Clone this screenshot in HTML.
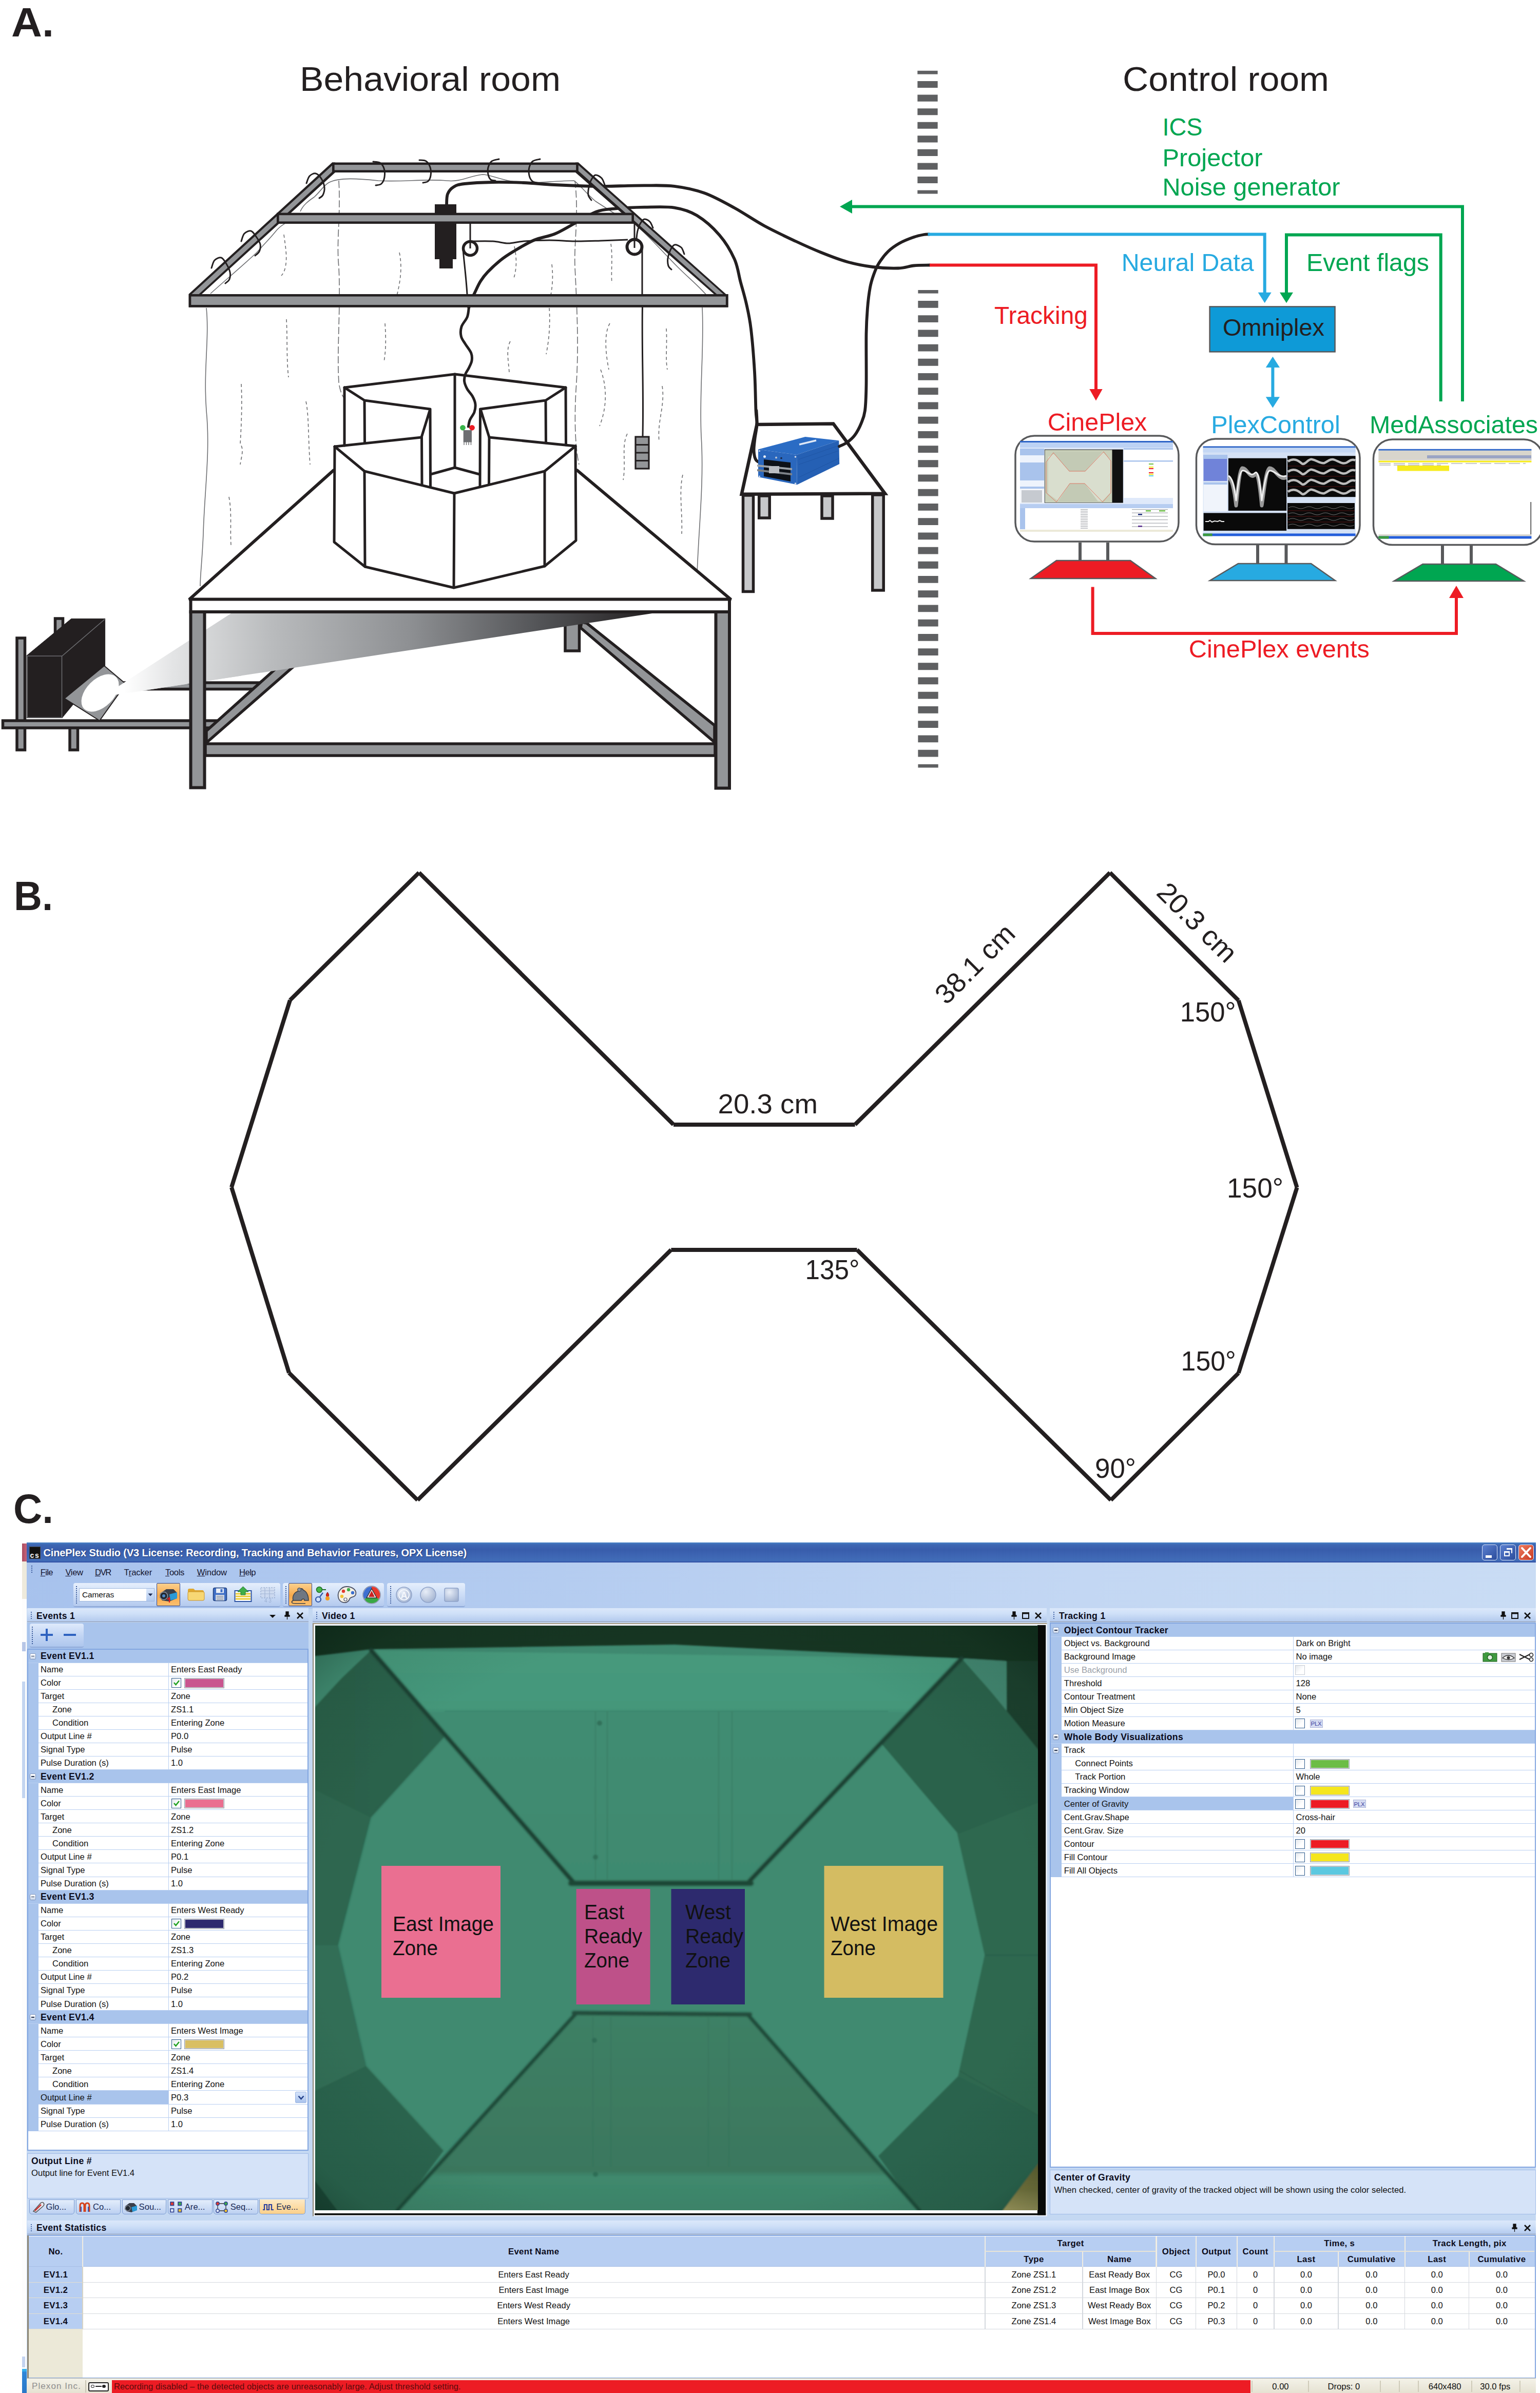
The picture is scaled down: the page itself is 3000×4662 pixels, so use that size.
<!DOCTYPE html><html><head><meta charset="utf-8"><title>Figure</title><style>
html,body{margin:0;padding:0;background:#fff}body{width:3000px;height:4662px;position:relative;overflow:hidden;font-family:"Liberation Sans",sans-serif}
#win{position:absolute;left:0;top:0;width:3000px;height:4662px;font-family:"Liberation Sans",sans-serif;color:#000}
#win div,#win span,#win svg{position:absolute;box-sizing:border-box}
.t{white-space:nowrap;font-size:16.6px;line-height:20px;color:#111;letter-spacing:0px}
.b{font-weight:bold;font-size:17.6px;color:#0b0b1a;letter-spacing:0.35px}
.hdr{background:linear-gradient(#d3e2f9,#b3ccf0);}
.gr{background:#fff}
.row{left:0;height:26.05px;border-bottom:1.5px solid #b6cdf0}
.sec{background:#a9c5ee}
.cb{width:19px;height:19px;border:1.5px solid #2b4f86;background:linear-gradient(135deg,#dfe6ee,#fff);border-radius:1px}
.sw{height:19px;width:77px;border:2px solid #c3c7cc;box-shadow:0 0 0 1px #8e9299 inset}

</style></head><body>
<svg width="3000" height="2990" viewBox="0 0 3000 2990" style="position:absolute;left:0;top:0" font-family="Liberation Sans, sans-serif">
<defs>
<linearGradient id="beam" gradientUnits="userSpaceOnUse" x1="210" y1="0" x2="1275" y2="0">
<stop offset="0" stop-color="#ffffff"/><stop offset="0.03" stop-color="#ffffff"/><stop offset="0.12" stop-color="#e3e4e5"/><stop offset="0.3" stop-color="#b9bbbd"/><stop offset="0.55" stop-color="#8e9093"/><stop offset="0.8" stop-color="#505154"/><stop offset="1" stop-color="#231f20"/>
</linearGradient>
</defs>
<!-- labels -->
<text x="22" y="71" font-size="80" font-weight="bold" fill="#231f20" textLength="83" lengthAdjust="spacingAndGlyphs">A.</text>
<text x="584" y="177" font-size="66" fill="#231f20" textLength="508" lengthAdjust="spacingAndGlyphs">Behavioral room</text>
<text x="2187" y="177" font-size="66" fill="#231f20" textLength="402" lengthAdjust="spacingAndGlyphs">Control room</text>

<!-- curtain thin lines -->
<g fill="none" stroke="#6d6e71" stroke-width="1.6">
<path d="M410 572 C440 545 470 520 500 492 C520 470 528 462 536 452 C545 440 552 438 560 432"/>
<path d="M585 412 C590 400 600 392 612 384 C625 372 630 362 640 356 C660 345 700 348 737 352 C780 355 830 348 870 352 C900 355 915 342 940 340 C960 340 985 358 1040 356 C1075 354 1100 352 1118 352 C1130 360 1140 375 1160 392 C1180 405 1200 418 1222 432"/>
<path d="M1240 440 C1260 455 1290 490 1320 520 C1345 545 1365 560 1385 585"/>
<path d="M402 600 C408 660 396 720 402 800 C410 880 398 960 396 1040 C394 1090 390 1120 390 1142"/>
<path d="M1368 599 C1372 680 1362 760 1366 850 C1372 940 1360 1040 1358 1120"/>
<path d="M1120 352 C1128 420 1118 470 1120 520 C1124 600 1128 680 1122 760 C1118 830 1122 880 1128 905" stroke-dasharray="14 5"/>
<path d="M660 352 C664 420 655 470 660 520 C664 600 656 680 660 745 C662 760 666 770 670 775" stroke-dasharray="14 5"/>
</g>
<g fill="none" stroke="#6d6e71" stroke-width="1.6" stroke-dasharray="6 5">
<path d="M553 457 C556 480 560 500 556 520 C554 530 550 535 548 537"/>
<path d="M778 492 C784 520 780 550 772 580"/>
<path d="M1002 480 C1006 500 1008 520 1000 545"/>
<path d="M1075 515 C1078 540 1076 560 1072 580"/>
<path d="M1190 475 C1194 500 1190 530 1192 552"/>
<path d="M558 622 C560 660 558 700 562 735"/>
<path d="M750 630 C752 660 752 680 748 705"/>
<path d="M1070 600 C1072 630 1070 660 1064 690"/>
<path d="M994 665 C986 680 990 700 992 725"/>
<path d="M1188 630 C1176 650 1180 690 1186 720"/>
<path d="M1298 640 C1300 670 1296 700 1300 720"/>
<path d="M1290 752 C1296 790 1280 820 1284 860"/>
<path d="M1222 845 C1210 870 1220 900 1214 935"/>
<path d="M1170 720 C1185 760 1180 800 1168 830"/>
<path d="M1330 925 C1322 960 1330 1000 1328 1040"/>
<path d="M470 748 C472 790 470 830 468 865 C476 875 470 890 468 905"/>
<path d="M596 782 C602 810 600 850 604 905"/>
<path d="M446 968 C452 1000 448 1030 450 1062"/>
</g>

<polygon points="368.5,1168 650,916 1124,916 1424,1168" fill="#fff" stroke="#231f20" stroke-width="6" stroke-linejoin="bevel"/>
<g fill="none" stroke="#231f20" stroke-width="5.8" stroke-linecap="round"><path d="M870.0 399.0 C870.3 395.5 869.7 383.8 872.0 378.0 C874.3 372.2 878.5 367.3 884.0 364.0 C889.5 360.7 892.3 359.5 905.0 358.0 C917.7 356.5 940.8 355.3 960.0 355.0 C979.2 354.7 1000.0 355.2 1020.0 356.0 C1040.0 356.8 1057.8 358.9 1080.0 360.0 C1102.2 361.1 1136.0 362.3 1153.0 362.8 C1170.0 363.3 1165.0 363.0 1182.0 362.8 C1199.0 362.6 1233.0 361.4 1255.0 361.4 C1277.0 361.4 1294.3 360.4 1313.8 362.8 C1333.3 365.2 1352.5 369.0 1372.0 376.0 C1391.5 383.0 1411.2 394.3 1430.7 405.0 C1450.2 415.7 1469.1 429.2 1489.0 440.0 C1508.9 450.8 1531.5 461.3 1550.0 470.0 C1568.5 478.7 1583.3 485.3 1600.0 492.0 C1616.7 498.7 1633.3 505.3 1650.0 510.0 C1666.7 514.7 1683.3 517.9 1700.0 520.0 C1716.7 522.1 1736.7 522.9 1750.0 522.5 C1763.3 522.1 1769.8 518.5 1780.0 517.5 C1790.2 516.5 1805.8 516.7 1811.0 516.5"/><path d="M913.4 598.8 C914.2 596.5 916.1 589.8 918.0 585.0 C919.9 580.2 922.0 576.2 925.0 570.0 C928.0 563.8 931.8 554.7 936.0 548.0 C940.2 541.3 943.5 536.8 950.0 530.0 C956.5 523.2 966.7 513.7 975.0 507.0 C983.3 500.3 989.2 496.5 1000.0 490.0 C1010.8 483.5 1026.7 473.7 1040.0 468.0 C1053.3 462.3 1067.0 461.3 1080.0 456.0 C1093.0 450.7 1104.4 443.2 1118.0 436.0 C1131.6 428.8 1148.6 417.4 1161.8 412.5 C1175.0 407.6 1181.4 408.2 1197.0 406.7 C1212.6 405.2 1235.8 404.0 1255.3 403.7 C1274.8 403.4 1296.8 401.9 1313.8 404.6 C1330.8 407.3 1343.0 410.9 1357.6 419.8 C1372.2 428.7 1389.2 443.7 1401.4 457.8 C1413.6 471.9 1423.9 489.5 1430.7 504.6 C1437.5 519.7 1438.5 533.8 1442.4 548.4 C1446.3 563.0 1450.6 576.7 1454.0 592.0 C1457.4 607.3 1460.1 617.8 1462.8 640.0 C1465.5 662.2 1468.4 698.3 1470.0 725.0 C1471.6 751.7 1471.8 783.0 1472.5 800.0 C1473.2 817.0 1474.9 817.9 1474.5 827.0 C1474.1 836.1 1471.0 846.1 1470.0 854.7 C1469.0 863.3 1468.1 871.6 1468.6 878.6 C1469.1 885.6 1469.5 892.0 1473.0 896.5 C1476.5 901.0 1486.8 903.9 1489.5 905.4"/></g>
<polygon points="647,316.5 653,316.5 653,336 393,573 367.5,573" fill="#231f20"/>
<polygon points="647.5,322 661,322 387.5,573 373.5,573" fill="#939598"/>
<polygon points="1126.8,316.5 1414.3,573 1390.9,573 1121,336 1121,316.5" fill="#231f20"/>
<polygon points="1127.1,322 1409.1,573 1396.3,573 1114.3,322" fill="#939598"/>
<g fill="#939598" stroke="#231f20" stroke-width="4.6" stroke-linejoin="miter">
<rect x="649.3" y="318.8" width="475.2" height="14.9"/>
<rect x="370" y="575.3" width="1046.2" height="21"/>
</g>
<rect x="847" y="398" width="42" height="107" fill="#231f20"/><rect x="856" y="504" width="26" height="19" fill="#231f20"/>
<rect x="541.3" y="416.9" width="691.4" height="16.8" fill="#939598" stroke="#231f20" stroke-width="4.6"/>
<g fill="none" stroke="#231f20">
<path d="M916.0 470.0 C923.3 470.0 947.7 469.3 960.0 470.0 C972.3 470.7 980.0 474.0 990.0 474.0 C1000.0 474.0 1006.7 471.0 1020.0 470.0 C1033.3 469.0 1053.3 468.0 1070.0 468.0 C1086.7 468.0 1103.3 469.8 1120.0 470.0 C1136.7 470.2 1152.8 469.5 1170.0 469.0 C1187.2 468.5 1214.2 467.3 1223.0 467.0" stroke-width="3"/>
<circle cx="916" cy="484" r="13.5" stroke-width="5.5" fill="#fff"/>
<circle cx="1236" cy="481" r="14.5" stroke-width="6" fill="#fff"/>
<path d="M916 436 V484 M1236 436 V483" stroke-width="3"/>
<path d="M902 486 C904 510 908 540 910 573" stroke-width="3"/>
<path d="M1251 481 V573 M1251.5 597 C1250 680 1254 760 1252 850" stroke-width="3"/>
</g>
<g fill="none" stroke="#231f20" stroke-width="3" stroke-linecap="round"><path d="M597.0 357.0 C598.0 354.7 600.0 346.2 603.0 343.0 C606.0 339.8 611.2 337.2 615.0 338.0 C618.8 338.8 623.2 343.5 626.0 348.0 C628.8 352.5 631.5 359.7 632.0 365.0 C632.5 370.3 630.7 376.5 629.0 380.0 C627.3 383.5 623.2 385.0 622.0 386.0"/><path d="M470.0 470.0 C471.0 467.5 472.8 458.3 476.0 455.0 C479.2 451.7 485.2 449.0 489.0 450.0 C492.8 451.0 496.0 456.7 499.0 461.0 C502.0 465.3 506.0 471.2 507.0 476.0 C508.0 480.8 506.7 486.3 505.0 490.0 C503.3 493.7 498.3 496.7 497.0 498.0"/><path d="M412.0 522.0 C413.0 519.5 414.8 510.3 418.0 507.0 C421.2 503.7 427.2 500.8 431.0 502.0 C434.8 503.2 438.2 509.3 441.0 514.0 C443.8 518.7 447.0 525.0 448.0 530.0 C449.0 535.0 448.5 540.3 447.0 544.0 C445.5 547.7 440.3 550.7 439.0 552.0"/><path d="M727.0 315.0 C729.2 315.3 736.5 314.8 740.0 317.0 C743.5 319.2 746.5 323.3 748.0 328.0 C749.5 332.7 749.8 340.0 749.0 345.0 C748.2 350.0 745.8 355.3 743.0 358.0 C740.2 360.7 733.8 360.5 732.0 361.0"/><path d="M817.0 312.0 C819.2 312.3 826.5 311.7 830.0 314.0 C833.5 316.3 836.5 321.3 838.0 326.0 C839.5 330.7 839.7 337.5 839.0 342.0 C838.3 346.5 836.5 350.7 834.0 353.0 C831.5 355.3 825.7 355.5 824.0 356.0"/><path d="M972.0 310.0 C969.7 310.7 961.5 311.3 958.0 314.0 C954.5 316.7 952.2 321.7 951.0 326.0 C949.8 330.3 950.2 336.0 951.0 340.0 C951.8 344.0 953.7 348.0 956.0 350.0 C958.3 352.0 963.5 351.7 965.0 352.0"/><path d="M1052.0 310.0 C1049.7 310.7 1041.5 311.3 1038.0 314.0 C1034.5 316.7 1032.2 321.3 1031.0 326.0 C1029.8 330.7 1030.0 337.5 1031.0 342.0 C1032.0 346.5 1034.5 350.7 1037.0 353.0 C1039.5 355.3 1044.5 355.5 1046.0 356.0"/><path d="M1178.0 360.0 C1177.0 357.8 1175.0 350.2 1172.0 347.0 C1169.0 343.8 1163.3 340.5 1160.0 341.0 C1156.7 341.5 1154.2 346.0 1152.0 350.0 C1149.8 354.0 1148.0 360.0 1147.0 365.0 C1146.0 370.0 1145.2 375.8 1146.0 380.0 C1146.8 384.2 1151.0 388.3 1152.0 390.0"/><path d="M1272.0 444.0 C1271.0 442.0 1268.8 434.8 1266.0 432.0 C1263.2 429.2 1258.2 426.3 1255.0 427.0 C1251.8 427.7 1249.2 432.2 1247.0 436.0 C1244.8 439.8 1243.2 445.3 1242.0 450.0 C1240.8 454.7 1240.3 461.7 1240.0 464.0"/><path d="M1333.0 495.0 C1332.0 492.8 1330.2 485.0 1327.0 482.0 C1323.8 479.0 1317.5 476.2 1314.0 477.0 C1310.5 477.8 1308.2 482.7 1306.0 487.0 C1303.8 491.3 1301.7 497.8 1301.0 503.0 C1300.3 508.2 1300.8 514.3 1302.0 518.0 C1303.2 521.7 1307.0 523.8 1308.0 525.0"/></g>
<rect x="370" y="575.3" width="1046.2" height="21" fill="#939598" stroke="#231f20" stroke-width="4.6"/>
<g fill="#939598" stroke="#231f20" stroke-width="3.2"><rect x="1238" y="851" width="26" height="62"/><path d="M1238 866.500 H1264 M1238 882 H1264 M1238 897.500 H1264" fill="none"/></g>
<!-- maze -->
<polygon points="671,755 886,729 1102,755 1102,866 1121,869 1122,1053 1061,1103 884,1145 711,1104 651,1056 652,870 671,868" fill="#fff"/>
<g fill="none" stroke="#231f20" stroke-width="5" stroke-linejoin="round" stroke-linecap="round">
<path d="M671 868 L671 755 L886 729 L1102 755 L1102.5 867"/>
<path d="M886 729 V911"/>
<path d="M671 755 L710 780 L710.5 863 M710 780 L838 797 L821 852 M838 797 L838.5 949 M821.5 852 L822 945"/>
<path d="M1102 755 L1063 780 L1063.5 863 M1063 780 L936 797 L953 852 M935.5 797 L935 947 M953 852 L952.5 943.5"/>
<path d="M652 870 L821 852 M1121 869 L953 852"/>
<path d="M839 924 L886 911 L934 924"/>
<path d="M652 870 L710 918 L885 961 L1061 918 L1121 869"/>
<path d="M652 870 L651 1056 L711 1104 L884 1145 L1061 1103 L1122 1053 L1121 869"/>
<path d="M710 918 L711 1104 M885 961 L884 1145 M1061 918 L1061 1103"/>
</g>

<path d="M913.4 598.8 C912.9 601.9 912.6 611.3 910.2 617.6 C907.8 623.9 901.0 630.1 899.0 636.4 C897.0 642.7 897.0 649.6 898.3 655.2 C899.5 660.8 903.2 664.8 906.5 670.2 C909.8 675.6 915.7 682.4 917.8 687.8 C919.9 693.2 919.8 697.8 919.0 702.8 C918.2 707.8 914.9 713.5 912.8 717.9 C910.7 722.3 907.9 725.0 906.5 729.2 C905.1 733.4 904.0 738.2 904.6 743.0 C905.2 747.8 907.6 753.2 910.2 758.0 C912.8 762.8 917.7 767.0 920.3 771.8 C922.9 776.6 925.3 781.6 925.9 786.8 C926.5 792.0 925.8 797.8 924.0 803.0 C922.2 808.2 917.3 813.2 915.3 818.2 C913.3 823.2 912.6 830.7 912.1 833.2" fill="none" stroke="#231f20" stroke-width="5" stroke-linecap="butt"/>
<circle cx="901.5" cy="833.3" r="5.4" fill="#39b54a"/><circle cx="919.5" cy="833.3" r="5.4" fill="#ed1c24"/>
<rect x="902.7" y="838" width="16.3" height="23.5" fill="#6d6e71"/>
<path d="M904 861 V867 M908.5 861 V867 M913 861 V867 M917.5 861 V867" stroke="#6d6e71" stroke-width="1.4"/>
<!-- projector shelf & table frame -->
<g fill="#939598" stroke="#231f20" stroke-width="5.5" stroke-linejoin="miter">
<rect x="33" y="1243" width="15.500" height="218"/>
<rect x="107.5" y="1205" width="15" height="120"/>
<rect x="136" y="1415" width="15.5" height="46"/>
<rect x="238" y="1330" width="272" height="12.5"/>
<rect x="5.5" y="1404" width="424" height="14"/>
<polygon points="402,1424 402,1447 581.5,1290 551.3,1290"/>
<rect x="1101" y="1200" width="27.500" height="68"/>
<polygon points="1133,1212 1143,1214 1392,1413 1392,1446 1131,1223"/>
<rect x="400" y="1449" width="993" height="23"/>
</g>
<!-- beam -->
<polygon points="209,1351 452,1194 1277,1194 209,1356" fill="url(#beam)"/>
<!-- projector -->
<g fill="#231f20" stroke="#231f20" stroke-width="1">
<polygon points="52.3,1277 121,1277 204.6,1205.4 138.9,1205.4"/>
<polygon points="121,1277 204.6,1205.4 204.6,1297 121,1398.5"/>
<rect x="52.3" y="1277" width="68.7" height="121.5"/>
</g>
<path d="M53.3 1398 V1278 H120.500 V1398 Z M121 1278 L204 1206.500" fill="none" stroke="#6d6e71" stroke-width="1.5"/>
<polygon points="125.4,1360.7 203,1297 245,1332.3 194,1404" fill="#939598" stroke="#231f20" stroke-width="2"/>
<ellipse cx="195" cy="1350" rx="44" ry="27" transform="rotate(-45 195 1350)" fill="#fff"/>
<polygon points="209,1351 452,1194 470,1194 470,1316.4 209,1356" fill="url(#beam)"/>
<!-- table legs & front face -->
<g fill="#939598" stroke="#231f20" stroke-width="6" stroke-linejoin="miter">
<rect x="371.5" y="1192" width="27" height="342.500"/>
<rect x="1394.5" y="1192" width="26.5" height="343.500"/>
</g>
<rect x="371.5" y="1167.5" width="1049.500" height="24.500" fill="#fff" stroke="#231f20" stroke-width="6"/>
<!-- small table -->
<polygon points="1474.5,827 1623.3,825.4 1724,961.600 1444.7,962.800" fill="#fff" stroke="#231f20" stroke-width="6.5" stroke-linejoin="miter"/>
<g fill="#c7c8ca" stroke="#231f20" stroke-width="5.5">
<rect x="1447.500" y="965" width="20" height="187.500"/>
<rect x="1699.700" y="964" width="21.500" height="186"/>
<rect x="1478.700" y="966" width="20.500" height="43"/>
<rect x="1601" y="966" width="21" height="44"/>
</g>
<path d="M1473.5 800.0 C1473.7 804.5 1475.0 817.9 1474.5 827.0 C1474.0 836.1 1471.5 846.1 1470.5 854.7 C1469.5 863.3 1468.2 871.6 1468.6 878.6 C1469.0 885.6 1469.5 892.0 1473.0 896.5 C1476.5 901.0 1486.8 903.9 1489.5 905.4" fill="none" stroke="#231f20" stroke-width="5.8" stroke-linecap="round"/>
<!-- blue box -->
<polygon points="1477,875.6 1568.6,851 1634.300,858.3 1552,886" fill="#2b6cc4"/>
<polygon points="1552,886 1634.300,858.3 1635.2,904 1552.800,944.3" fill="#2560b4"/>
<polygon points="1477,875.6 1552,886 1552.800,944.3 1477,929.3" fill="#2a67bd"/>
<polygon points="1488,895 1540,901 1540,938 1488,928" fill="#0d1117"/>
<polygon points="1475,905 1543,912 1543,916 1475,909" fill="#9aa0a6"/>
<polygon points="1475,914 1543,922 1543,926 1475,918" fill="#7d8288"/>
<rect x="1498" y="908" width="20" height="14" fill="#babdc2"/>
<circle cx="1489.500" cy="889.500" r="2.500" fill="#e8eef8"/>
<circle cx="1512" cy="891.500" r="2" fill="#b9c4d4"/>
<circle cx="1522" cy="892.500" r="1.800" fill="#1a2540"/>
<circle cx="1549.500" cy="890" r="1.800" fill="#d4dcea"/><circle cx="1549.500" cy="942" r="1.800" fill="#d4dcea"/>
<circle cx="1479.500" cy="878.500" r="1.600" fill="#d4dcea"/><circle cx="1479.500" cy="928" r="1.600" fill="#d4dcea"/>
<path d="M1557 866 L1590 858" stroke="#dfe8f6" stroke-width="3.500"/>
<path d="M1556 895 L1634 868 M1556 905 L1634 878 M1556 930 L1634 893" stroke="#1f56a6" stroke-width="1"/>
<path d="M1635.0 869.6 C1637.5 868.3 1645.0 865.6 1650.0 862.0 C1655.0 858.4 1660.4 854.2 1665.0 848.0 C1669.6 841.8 1674.3 832.8 1677.6 824.8 C1680.9 816.8 1683.3 812.5 1685.0 800.0 C1686.7 787.5 1687.1 775.0 1687.5 750.0 C1687.9 725.0 1687.1 675.0 1687.5 650.0 C1687.9 625.0 1688.8 615.0 1690.0 600.0 C1691.2 585.0 1693.0 570.8 1695.0 560.0 C1697.0 549.2 1699.2 542.8 1702.0 535.0 C1704.8 527.2 1707.3 520.5 1712.0 513.0 C1716.7 505.5 1723.3 496.5 1730.0 490.0 C1736.7 483.5 1743.7 478.7 1752.0 474.0 C1760.3 469.3 1772.0 464.8 1780.0 462.0 C1788.0 459.2 1795.0 457.9 1800.0 457.0 C1805.0 456.1 1808.3 456.6 1810.0 456.5" fill="none" stroke="#231f20" stroke-width="5.8" stroke-linecap="round"/>

<!-- dashed wall -->
<g fill="#5f6062">
<rect x="1787.3" y="137.800" width="39.3" height="6.800"/>
<rect x="1787.3" y="370.6" width="39.3" height="6.900"/>
<rect x="1788.400" y="565" width="39.3" height="6.600"/>
<rect x="1788.400" y="1488.900" width="39.3" height="6.600"/>
</g>
<path d="M1807 158 V357.400" stroke="#5f6062" stroke-width="39.3" stroke-dasharray="13.1 13.47" fill="none"/>
<path d="M1808 586 V1475" stroke="#5f6062" stroke-width="39.3" stroke-dasharray="13.800 14.414" fill="none"/>
<!-- arrows -->
<g fill="none" stroke-width="6" stroke-linejoin="miter">
<path d="M1656 402.5 H2849 V782" stroke="#00a651"/>
<path d="M2806.700 782 V457.5 H2506 V572" stroke="#00a651"/>
<path d="M1807.500 456.500 H2463.700 V572" stroke="#27aae1"/>
<path d="M1811 516.500 H2135 V760" stroke="#ed1c24"/>
<path d="M2479.400 712 V778" stroke="#27aae1"/>
<path d="M2128.600 1143.600 V1234 H2837 V1162" stroke="#ed1c24"/>
</g>
<polygon points="1636,402.5 1660,389 1660,416" fill="#00a651"/>
<polygon points="2506,590.300 2493,569.800 2519,569.800" fill="#00a651"/>
<polygon points="2463.700,590.300 2450.700,569.800 2476.700,569.800" fill="#27aae1"/>
<polygon points="2135,780.500 2122.300,758 2147.700,758" fill="#ed1c24"/>
<polygon points="2479.400,694.800 2465.800,716 2493,716" fill="#27aae1"/>
<polygon points="2479.400,794.400 2465.800,773.300 2493,773.300" fill="#27aae1"/>
<polygon points="2837,1141 2823,1165 2851,1165" fill="#ed1c24"/>
<!-- omniplex -->
<rect x="2356.600" y="597.400" width="244" height="88" fill="#0e9ad7" stroke="#58595b" stroke-width="2.500"/>
<text x="2382" y="654" font-size="46" fill="#231f20" textLength="198" lengthAdjust="spacingAndGlyphs">Omniplex</text>
<!-- text -->
<g font-size="48">
<text x="2264.500" y="264" fill="#00a651" textLength="78" lengthAdjust="spacingAndGlyphs">ICS</text>
<text x="2264.500" y="323.500" fill="#00a651" textLength="195" lengthAdjust="spacingAndGlyphs">Projector</text>
<text x="2264.500" y="381.400" fill="#00a651" textLength="346" lengthAdjust="spacingAndGlyphs">Noise generator</text>
<text x="2184.700" y="527.5" fill="#27aae1" textLength="258" lengthAdjust="spacingAndGlyphs">Neural Data</text>
<text x="2545" y="527.5" fill="#00a651" textLength="239" lengthAdjust="spacingAndGlyphs">Event flags</text>
<text x="1937" y="631" fill="#ed1c24" textLength="182" lengthAdjust="spacingAndGlyphs">Tracking</text>
<text x="2040.700" y="839.300" fill="#ed1c24" textLength="193.600" lengthAdjust="spacingAndGlyphs">CinePlex</text>
<text x="2359.300" y="843.600" fill="#27aae1" textLength="251.400" lengthAdjust="spacingAndGlyphs">PlexControl</text>
<text x="2668" y="843.600" fill="#00a651" textLength="328" lengthAdjust="spacingAndGlyphs">MedAssociates</text>
<text x="2315.700" y="1280.700" fill="#ed1c24" textLength="352.200" lengthAdjust="spacingAndGlyphs">CinePlex events</text>
</g>

<!-- monitors -->
<g fill="none" stroke="#58595b" stroke-width="6">
<path d="M2104 1057 V1093 M2158 1057 V1093"/>
<path d="M2450 1062 V1099 M2505.500 1062 V1099"/>
<path d="M2810 1063 V1100 M2866 1063 V1100"/>
</g>
<polygon points="2058,1092 2202,1092 2251,1127 2008,1127" fill="#ed1c24" stroke="#58595b" stroke-width="2.500"/>
<polygon points="2412,1098 2554,1098 2601,1131 2357,1131" fill="#27aae1" stroke="#58595b" stroke-width="2.500"/>
<polygon points="2771.5,1099 2914,1099 2968.600,1132 2715.5,1132" fill="#00a651" stroke="#58595b" stroke-width="2.500"/>
<g fill="#fff" stroke="#58595b" stroke-width="3.500">
<rect x="1978" y="849" width="318" height="206" rx="37"/>
<rect x="2330.500" y="855" width="318.500" height="205.500" rx="37"/>
<rect x="2675.500" y="856" width="330" height="205.500" rx="37"/>
</g>
<!-- screen 1 -->
<g>
<rect x="1987" y="859" width="298" height="177" fill="#dfe9fa"/>
<rect x="1987" y="859" width="298" height="3.200" fill="#2f66c8"/>
<rect x="1987" y="862" width="298" height="10" fill="#bcd2f4"/>
<rect x="1987" y="874" width="47" height="80" fill="#a9c3ec"/>
<rect x="1987" y="887" width="47" height="14" fill="#eef3fc"/>
<rect x="1987" y="936" width="47" height="12" fill="#eef3fc"/>
<rect x="1987" y="952" width="47" height="28" fill="#f4f6fa"/>
<rect x="1990" y="955" width="40" height="24" fill="#8f959e" opacity="0.45"/>
<rect x="2034.800" y="875.6" width="153" height="104" fill="#111"/>
<rect x="2035.500" y="876.500" width="131" height="102.500" fill="#c9d0ba"/>
<polygon points="2042,890 2062,880 2147,880 2163,895 2163,960 2147,976 2062,976 2042,962" fill="#d9dece"/>
<polygon points="2050,880 2083,918 2114,918 2148,880" fill="#c3cab5"/>
<polygon points="2060,978 2084,942 2113,942 2140,978" fill="#c3cab5"/>
<path d="M2052 882 L2083 918 H2114 L2150 880 L2164 898 V960 L2148 978 L2113 942 H2084 L2058 978 L2038 960 V900 Z" fill="none" stroke="#e0604c" stroke-width="0.8"/>
<rect x="2189" y="873" width="96" height="107" fill="#fff"/>
<rect x="2189" y="873" width="96" height="3" fill="#a9c3ec"/>
<rect x="2189" y="897" width="96" height="2.500" fill="#a9c3ec"/>
<rect x="2189" y="970" width="96" height="10" fill="#dfe9fa"/>
<rect x="2238" y="903" width="9" height="2" fill="#6cbd45"/><rect x="2238" y="909" width="9" height="2" fill="#f5e61d"/><rect x="2238" y="912" width="9" height="2" fill="#ed1c24"/>
<rect x="2238" y="920" width="9" height="2" fill="#ed1c24"/><rect x="2238" y="923" width="9" height="2" fill="#f5e61d"/><rect x="2238" y="926" width="9" height="2" fill="#5bc8e0"/>
<rect x="1987" y="982" width="298" height="50" fill="#fff"/>
<rect x="1987" y="982" width="298" height="8" fill="#b7cdf1"/>
<rect x="1987" y="990" width="10" height="41" fill="#a9c3ec"/>
<g fill="#6b6f78" opacity="0.6"><rect x="2105" y="992" width="14" height="1.200"/><rect x="2105" y="995.300" width="14" height="1.200"/><rect x="2105" y="998.600" width="14" height="1.200"/><rect x="2105" y="1002" width="14" height="1.200"/><rect x="2105" y="1005.300" width="14" height="1.200"/><rect x="2105" y="1008.600" width="14" height="1.200"/><rect x="2105" y="1012" width="14" height="1.200"/><rect x="2105" y="1015.300" width="14" height="1.200"/><rect x="2105" y="1018.600" width="14" height="1.200"/><rect x="2105" y="1022" width="14" height="1.200"/><rect x="2105" y="1025.300" width="14" height="1.200"/><rect x="2105" y="1028.600" width="14" height="1.200"/>
<rect x="2205" y="992" width="70" height="1.200"/><rect x="2205" y="998.600" width="70" height="1.200"/><rect x="2205" y="1005.300" width="70" height="1.200"/><rect x="2205" y="1012" width="70" height="1.200"/><rect x="2205" y="1018.600" width="70" height="1.200"/><rect x="2205" y="1025.300" width="70" height="1.200"/></g>
<rect x="2232" y="994" width="10" height="2.500" fill="#6cbd45"/><rect x="2258" y="994" width="12" height="2.500" fill="#6cbd45"/>
<rect x="2217" y="1001" width="8" height="2.500" fill="#1b2a7a"/><rect x="2217" y="1024" width="8" height="2.500" fill="#5a2d91"/>
<rect x="1987" y="1032" width="298" height="4" fill="#ece9d8"/>
</g>

<!-- screen 2 -->
<g>
<rect x="2343.600" y="869.400" width="297" height="175" fill="#d4e1f5"/>
<rect x="2343.600" y="869.400" width="297" height="3" fill="#2f66c8"/>
<rect x="2343.600" y="872.400" width="297" height="9" fill="#c4d7f4"/>
<rect x="2344.600" y="886" width="46" height="51" fill="#7083d9"/>
<rect x="2344.600" y="886" width="46" height="8" fill="#a9c3ec"/>
<rect x="2344.600" y="940" width="46" height="56" fill="#f0f4fb"/>
<rect x="2344.600" y="940" width="46" height="4" fill="#a9c3ec"/>
<rect x="2392.900" y="892.700" width="113.300" height="102.200" fill="#0a0a0a"/>
<rect x="2508" y="888.200" width="132.600" height="80" fill="#0a0a0a"/>
<rect x="2508" y="980" width="131" height="50.700" fill="#0a0a0a"/>
<rect x="2344.600" y="999.400" width="161.500" height="34.500" fill="#0a0a0a"/>
<g fill="none" stroke="#c9c9c9" stroke-linejoin="round">
<path d="M2393 930 C2400 935 2404 950 2408 985 C2411 960 2414 915 2420 912 C2428 910 2436 935 2444 925 C2450 918 2453 935 2458 985 C2462 960 2466 915 2473 912 C2482 910 2492 938 2506 930" stroke-width="7" opacity="0.75"/>
<path d="M2393 927 C2400 930 2404 945 2408 975 C2411 950 2414 920 2420 917 C2428 915 2436 930 2444 922 C2450 915 2453 930 2458 975 C2462 950 2466 920 2473 917 C2482 915 2492 932 2506 927" stroke-width="3" stroke="#efefef"/>
</g>
<g fill="none" stroke="#dcdcdc" stroke-width="4.500" opacity="0.85">
<path d="M2509 899 C2520 892 2528 896 2536 903 C2542 908 2548 893 2556 895 C2566 897 2572 904 2580 902 C2588 898 2592 893 2600 896 C2610 900 2616 905 2624 901 C2630 897 2634 894 2640 897"/>
<path d="M2509 919 C2520 912 2528 916 2536 923 C2542 928 2548 913 2556 915 C2566 917 2572 924 2580 922 C2588 918 2592 913 2600 916 C2610 920 2616 925 2624 921 C2630 917 2634 914 2640 917"/>
<path d="M2509 939 C2520 932 2528 936 2536 943 C2542 948 2548 933 2556 935 C2566 937 2572 944 2580 942 C2588 938 2592 933 2600 936 C2610 940 2616 945 2624 941 C2630 937 2634 934 2640 937"/>
<path d="M2509 958 C2520 951 2528 955 2536 962 C2542 967 2548 952 2556 954 C2566 956 2572 963 2580 961 C2588 957 2592 952 2600 955 C2610 959 2616 964 2624 960 C2630 956 2634 953 2640 956"/>
</g>
<g fill="none" stroke="#8a8a8a" stroke-width="0.800">
<path d="M2510 989 q8 -4 16 0 t16 0 t16 0 t16 0 t16 0 t16 0 t16 0 t16 0"/>
<path d="M2510 1001 q8 -4 16 0 t16 0 t16 0 t16 0 t16 0 t16 0 t16 0 t16 0"/>
<path d="M2510 1012 q8 -4 16 0 t16 0 t16 0 t16 0 t16 0 t16 0 t16 0 t16 0"/>
<path d="M2510 1023 q8 -4 16 0 t16 0 t16 0 t16 0 t16 0 t16 0 t16 0 t16 0"/>
</g>
<path d="M2508 908 H2640 M2508 928 H2640 M2508 948 H2640 M2508 995 H2639 M2508 1006 H2639 M2508 1017 H2639" stroke="#8b1a1a" stroke-width="0.600"/>
<path d="M2348 1016 h6 l3 -2 l4 3 l5 -2 l6 1 l4 -2 l4 2 h5" stroke="#eee" stroke-width="2" fill="none"/>
<rect x="2343.600" y="1039.400" width="297" height="5" fill="#245edb"/>
<rect x="2343.600" y="1039.400" width="18" height="5" fill="#3c9a3c"/>
</g>
<!-- screen 3 -->
<g>
<rect x="2685.400" y="874.800" width="298" height="174.700" fill="#fff"/>
<rect x="2685.400" y="874.800" width="298" height="3" fill="#2f66c8"/>
<rect x="2685.400" y="877.800" width="298" height="19" fill="#d8d5cc"/>
<rect x="2780" y="887" width="203" height="6" fill="#9aa4c4"/>
<rect x="2685.400" y="897.500" width="298" height="3.200" fill="#f7ec1d"/>
<rect x="2722" y="907" width="101" height="10.500" fill="#f7ec1d"/>
<path d="M2687 903 h285 M2687 906 h120" stroke="#777" stroke-width="0.800" stroke-dasharray="22 6"/>
<rect x="2981.500" y="978" width="1.500" height="65" fill="#333"/>
<rect x="2685.400" y="1041" width="298" height="3.500" fill="#d8d5cc"/>
<rect x="2685.400" y="1044.500" width="298" height="5" fill="#245edb"/>
<rect x="2685.400" y="1044.500" width="20" height="5" fill="#3c9a3c"/>
</g>

<!-- panel B -->
<text x="27" y="1773" font-size="80" font-weight="bold" fill="#231f20" textLength="76" lengthAdjust="spacingAndGlyphs">B.</text>
<text x="26" y="2967" font-size="80" font-weight="bold" fill="#231f20" textLength="78" lengthAdjust="spacingAndGlyphs">C.</text>
<g stroke="#231f20" stroke-width="8" stroke-linecap="butt" fill="none">
<path d="M816.300 1700 L565 1948.500"/>
<path d="M565 1948.500 L451 2313"/>
<path d="M451 2313 L563 2674.500"/>
<path d="M563 2674.500 L813.500 2922.500"/>
<path d="M813.500 2922.500 L1307.400 2434.900"/>
<path d="M1307.400 2434.900 H1669.500"/>
<path d="M1669.500 2434.900 L2164 2922.500"/>
<path d="M2164 2922.500 L2412.700 2675"/>
<path d="M2412.700 2675 L2526.600 2313.500"/>
<path d="M2526.600 2313.500 L2412.700 1949"/>
<path d="M2412.700 1949 L2162.300 1700"/>
<path d="M2162.300 1700 L1665.600 2190.900"/>
<path d="M1665.600 2190.900 H1312"/>
<path d="M1312 2190.900 L816.300 1700"/>
</g>
<g font-size="54" fill="#231f20">
<text x="1398.600" y="2169" textLength="194.300" lengthAdjust="spacingAndGlyphs">20.3 cm</text>
<text x="1568.600" y="2491.600" textLength="106" lengthAdjust="spacingAndGlyphs">135°</text>
<text x="2298.700" y="1990" textLength="109" lengthAdjust="spacingAndGlyphs">150°</text>
<text x="2390" y="2333" textLength="110" lengthAdjust="spacingAndGlyphs">150°</text>
<text x="2300.600" y="2670" textLength="107.200" lengthAdjust="spacingAndGlyphs">150°</text>
<text x="2133" y="2879.400" textLength="80" lengthAdjust="spacingAndGlyphs">90°</text>
<text transform="translate(1843.6 1959.5) rotate(-45)" textLength="194.300" lengthAdjust="spacingAndGlyphs">38.1 cm</text>
<text transform="translate(2250.5 1741.4) rotate(45)" textLength="194.300" lengthAdjust="spacingAndGlyphs">20.3 cm</text>
</g>

</svg>
<div id="win">
<div style="left:43px;top:3007px;width:9px;height:1655px;background:#fdfdfd"></div>
<div style="left:43px;top:3007px;width:9px;height:35px;background:linear-gradient(90deg,#a94a5e,#c7647a)"></div>
<div style="left:43px;top:3042px;width:9px;height:73px;background:#eeeadc"></div>
<div style="left:43px;top:3276px;width:5.5px;height:227px;background:#c3d5f0"></div>
<div style="left:43px;top:3199px;width:7px;height:18px;background:#b7c6e6"></div>
<div style="left:43px;top:4590.7px;width:6px;height:21px;background:#c3d3f0"></div>
<div style="left:43px;top:4615px;width:9.5px;height:47px;background:linear-gradient(#36b0ee 0%,#36b0ee 8%,#2f86d8 14%,#2a78c8 100%)"></div>
<div style="left:52px;top:3007px;width:2940px;height:1655px;background:#c4d8f2"></div>
<div style="left:52px;top:3005px;width:2940px;height:40px;background:linear-gradient(#4a84c8 0%,#3d67b3 10%,#385cab 35%,#3d64b2 60%,#416db8 90%,#2f4da3 96%,#2f4da3 100%)"></div><div style="left:57px;top:3013px;width:22px;height:24px;background:#111;border:1px solid #444"></div><span class="t" style="left:58.5px;top:3023.15px;color:#fff;font-weight:bold;line-height:14px;font-size:14px;letter-spacing:1.714px;">cs</span><span class="t" style="left:84.5px;top:3015.07px;color:#fff;font-weight:bold;text-shadow:1px 1px 1px #1c3a7a;font-size:20px;letter-spacing:-0.121px;">CinePlex Studio (V3 License: Recording, Tracking and Behavior Features, OPX License)</span><div style="left:2886.6px;top:3008.5px;width:30.6px;height:31.8px;border:1.6px solid #dfe8fa;border-radius:5px;background:linear-gradient(135deg,#5b80d0,#2b4c9c)"></div><div style="left:2922px;top:3008.5px;width:30.6px;height:31.8px;border:1.6px solid #dfe8fa;border-radius:5px;background:linear-gradient(135deg,#5b80d0,#2b4c9c)"></div><div style="left:2957.5px;top:3008.5px;width:30.6px;height:31.8px;border:1.6px solid #dfe8fa;border-radius:5px;background:linear-gradient(135deg,#ee7a5e,#c83a22)"></div><div style="left:2894px;top:3030px;width:12px;height:4.5px;background:#fff"></div><div style="left:2930px;top:3022px;width:11px;height:10px;border:2.2px solid #fff;border-top-width:3.5px"></div><div style="left:2935px;top:3016px;width:11px;height:10px;border:2.2px solid #fff;border-top-width:3.5px;border-left:none;border-bottom:none"></div><svg style="left:2962px;top:3013px" width="22" height="23" viewBox="0 0 22 23"><path d="M3 3 L19 20 M19 3 L3 20" stroke="#fff" stroke-width="4" stroke-linecap="round"/></svg>
<div style="left:52px;top:3043.5px;width:2940px;height:90px;background:linear-gradient(90deg,#a7c2ed 0%,#b4ccf0 35%,#c3d7f3 70%,#c9dcf4 100%)"></div><div style="left:60.5px;top:3050px;width:2.2px;height:2.2px;background:#3a5a9a"></div><div style="left:60.5px;top:3054px;width:2.2px;height:2.2px;background:#3a5a9a"></div><div style="left:60.5px;top:3058px;width:2.2px;height:2.2px;background:#3a5a9a"></div><div style="left:60.5px;top:3062px;width:2.2px;height:2.2px;background:#3a5a9a"></div><span class="t" style="left:78.7px;top:3054.15px;letter-spacing:-0.662px;color:#15152e"><u>F</u>ile</span><span class="t" style="left:127.4px;top:3054.15px;letter-spacing:-0.345px;color:#15152e"><u>V</u>iew</span><span class="t" style="left:185px;top:3054.15px;letter-spacing:-1.349px;color:#15152e"><u>D</u>VR</span><span class="t" style="left:241.5px;top:3054.15px;letter-spacing:-0.163px;color:#15152e">T<u>r</u>acker</span><span class="t" style="left:322px;top:3054.15px;letter-spacing:-0.350px;color:#15152e"><u>T</u>ools</span><span class="t" style="left:383.7px;top:3054.15px;letter-spacing:-0.123px;color:#15152e"><u>W</u>indow</span><span class="t" style="left:466px;top:3054.15px;letter-spacing:-0.535px;color:#15152e"><u>H</u>elp</span>
<div style="left:143px;top:3083.5px;width:403px;height:47px;background:linear-gradient(#e6effc 0%,#cfdff7 45%,#b4caee 100%);border-radius:4px;border-bottom:2px solid #8fa9d8;"></div><div style="left:551px;top:3083.5px;width:197px;height:47px;background:linear-gradient(#e6effc 0%,#cfdff7 45%,#b4caee 100%);border-radius:4px;border-bottom:2px solid #8fa9d8;"></div><div style="left:754px;top:3083.5px;width:152px;height:47px;background:linear-gradient(#e6effc 0%,#cfdff7 45%,#b4caee 100%);border-radius:4px;border-bottom:2px solid #8fa9d8;"></div><div style="left:147.5px;top:3090px;width:2.2px;height:2.2px;background:#3a5a9a"></div><div style="left:147.5px;top:3094px;width:2.2px;height:2.2px;background:#3a5a9a"></div><div style="left:147.5px;top:3098px;width:2.2px;height:2.2px;background:#3a5a9a"></div><div style="left:147.5px;top:3102px;width:2.2px;height:2.2px;background:#3a5a9a"></div><div style="left:147.5px;top:3106px;width:2.2px;height:2.2px;background:#3a5a9a"></div><div style="left:147.5px;top:3110px;width:2.2px;height:2.2px;background:#3a5a9a"></div><div style="left:147.5px;top:3114px;width:2.2px;height:2.2px;background:#3a5a9a"></div><div style="left:147.5px;top:3118px;width:2.2px;height:2.2px;background:#3a5a9a"></div><div style="left:147.5px;top:3122px;width:2.2px;height:2.2px;background:#3a5a9a"></div><div style="left:556px;top:3090px;width:2.2px;height:2.2px;background:#3a5a9a"></div><div style="left:556px;top:3094px;width:2.2px;height:2.2px;background:#3a5a9a"></div><div style="left:556px;top:3098px;width:2.2px;height:2.2px;background:#3a5a9a"></div><div style="left:556px;top:3102px;width:2.2px;height:2.2px;background:#3a5a9a"></div><div style="left:556px;top:3106px;width:2.2px;height:2.2px;background:#3a5a9a"></div><div style="left:556px;top:3110px;width:2.2px;height:2.2px;background:#3a5a9a"></div><div style="left:556px;top:3114px;width:2.2px;height:2.2px;background:#3a5a9a"></div><div style="left:556px;top:3118px;width:2.2px;height:2.2px;background:#3a5a9a"></div><div style="left:556px;top:3122px;width:2.2px;height:2.2px;background:#3a5a9a"></div><div style="left:760px;top:3090px;width:2.2px;height:2.2px;background:#3a5a9a"></div><div style="left:760px;top:3094px;width:2.2px;height:2.2px;background:#3a5a9a"></div><div style="left:760px;top:3098px;width:2.2px;height:2.2px;background:#3a5a9a"></div><div style="left:760px;top:3102px;width:2.2px;height:2.2px;background:#3a5a9a"></div><div style="left:760px;top:3106px;width:2.2px;height:2.2px;background:#3a5a9a"></div><div style="left:760px;top:3110px;width:2.2px;height:2.2px;background:#3a5a9a"></div><div style="left:760px;top:3114px;width:2.2px;height:2.2px;background:#3a5a9a"></div><div style="left:760px;top:3118px;width:2.2px;height:2.2px;background:#3a5a9a"></div><div style="left:760px;top:3122px;width:2.2px;height:2.2px;background:#3a5a9a"></div><div style="left:154px;top:3094.4px;width:146.5px;height:25.5px;background:#fff;border:1px solid #9db6dd"></div><span class="t" style="left:160.0px;top:3096.63px;font-size:15.5px;letter-spacing:-0.125px;">Cameras</span><div style="left:284.5px;top:3095.4px;width:15px;height:23.5px;background:linear-gradient(#dbe8fb,#b0c8ee)"></div><svg style="left:287.500px;top:3104px" width="10" height="6"><path d="M0.500 0.500 H9.500 L5 5.500 Z" fill="#1b2a55"/></svg><div style="left:304.6px;top:3083.5px;width:46.8px;height:45px;background:linear-gradient(#fbd08e,#f7a94b 55%,#fbc070);border:1.800px solid #2f4791;border-radius:2px;"></div><svg style="left:308px;top:3090px" width="40" height="34" viewBox="0 0 40 34"><path d="M4 14 L16 6 L30 6 L36 12 L36 24 L22 30 L8 28 L3 22 Z" fill="#3a3f4a"/><circle cx="11" cy="19" r="7.500" fill="#222831" stroke="#8f97a3" stroke-width="1.500"/><circle cx="11" cy="19" r="3" fill="#4d88c4"/><path d="M22 16 L37 12 L37 24 L24 28 Z" fill="#2a9ad8"/><path d="M18 26 l4 -3 v9" stroke="#e21b1b" stroke-width="2.200" fill="none"/></svg><svg style="left:364px;top:3092px" width="36" height="28" viewBox="0 0 36 28"><path d="M2 6 q0 -3 3 -3 h8 l3 3 h14 q3 0 3 3 v14 q0 3 -3 3 h-25 q-3 0 -3 -3 Z" fill="#e0a82e"/><path d="M2 11 q0 -2 3 -2 h26 q3 0 3 2 v12 q0 3 -3 3 h-26 q-3 0 -3 -3 Z" fill="#f7d774" stroke="#c8922a" stroke-width="1"/></svg><svg style="left:414px;top:3092px" width="30" height="28" viewBox="0 0 30 28"><rect x="1.500" y="1.500" width="26" height="25" rx="3" fill="#3f6fc6" stroke="#23427e" stroke-width="1.500"/><rect x="7" y="2.500" width="15" height="9" fill="#e9eef6"/><rect x="15.500" y="4" width="4" height="6" fill="#3f6fc6"/><rect x="6" y="15" width="17" height="11" fill="#cfd6e2"/><path d="M8 18 h13 M8 21 h13 M8 24 h13" stroke="#7d8798" stroke-width="1"/></svg><svg style="left:456px;top:3090px" width="35" height="32" viewBox="0 0 35 32"><rect x="1.500" y="9" width="32" height="21" fill="#fff" stroke="#2f55a4" stroke-width="2"/><path d="M3 15 h29 M3 20 h29 M3 25 h29" stroke="#e8c933" stroke-width="3"/><path d="M17.500 1 L28 11 H22 V17 H13 V11 H7 Z" fill="#3fae49" stroke="#1f7a2c" stroke-width="1"/></svg><svg style="left:506px;top:3091px" width="32" height="32" viewBox="0 0 32 32" opacity="0.55"><rect x="2" y="2" width="27" height="20" fill="#cdd8ec" stroke="#7f93bb" stroke-width="1.500" stroke-dasharray="3 2"/><path d="M2 8 h27 M2 14 h27 M10 2 v20 M19 2 v20" stroke="#7f93bb" stroke-width="1.200"/><text x="9" y="31" font-size="10" fill="#7f93bb" font-family="Liberation Sans">4 3</text></svg><div style="left:561.7px;top:3083.5px;width:46px;height:45px;background:linear-gradient(#fbd08e,#f7a94b 55%,#fbc070);border:1.800px solid #2f4791;border-radius:2px;"></div><svg style="left:565px;top:3088px" width="40" height="38" viewBox="0 0 40 38"><path d="M6 30 C4 22 8 14 16 12 C18 6 24 5 26 10 C32 12 36 20 36 30 L28 30 C28 26 24 26 22 30 Z" fill="#6f7782" stroke="#3b4049" stroke-width="1.500"/><circle cx="18" cy="9" r="3.500" fill="#8a929d" stroke="#3b4049" stroke-width="1"/><path d="M6 30 C2 32 2 36 10 36 H30" stroke="#3b4049" stroke-width="1.500" fill="none"/></svg><svg style="left:611px;top:3088px" width="36" height="38" viewBox="0 0 36 38"><circle cx="11" cy="9" r="5.500" fill="#45b649" stroke="#1f6d25" stroke-width="1.500"/><path d="M16 9 h8" stroke="#1f6d25" stroke-width="2"/><circle cx="9" cy="28" r="5" fill="#cfe0fa" stroke="#2f55a4" stroke-width="2.200"/><path d="M12 23 l6 -8" stroke="#2f55a4" stroke-width="2.200"/><path d="M27 14 q5 6 0 10 q-5 -4 0 -10 Z" fill="#e2231a" stroke="#7d120d" stroke-width="1"/><circle cx="27" cy="26" r="4" fill="#f39c1f"/></svg><svg style="left:655px;top:3088px" width="42" height="38" viewBox="0 0 42 38"><path d="M20 3 C32 3 40 10 38 18 C36 25 28 22 26 27 C24 33 18 36 11 33 C2 29 2 16 7 10 C10 6 15 3 20 3 Z" fill="#f4f0e6" stroke="#4a4f63" stroke-width="1.800"/><circle cx="14" cy="12" r="3.200" fill="#e23a2e"/><circle cx="24" cy="9" r="3.200" fill="#3fae49"/><circle cx="32" cy="15" r="3.200" fill="#3b6fd0"/><circle cx="11" cy="22" r="3.200" fill="#f2c230"/><circle cx="18" cy="28" r="3" fill="#fff" stroke="#4a4f63" stroke-width="1.200"/></svg><svg style="left:704px;top:3088px" width="40" height="38" viewBox="0 0 40 38"><circle cx="20" cy="19" r="17" fill="#e9edf5" stroke="#8a93a8" stroke-width="1.500"/><path d="M20 19 L20 3 A16 16 0 0 1 34 27 Z" fill="#e8392d"/><path d="M20 19 L34 27 A16 16 0 0 1 6 27 Z" fill="#39a845"/><path d="M20 19 L6 27 A16 16 0 0 1 20 3 Z" fill="#3e6fd1"/><path d="M20 7 L30 25 H10 Z" fill="#f4f4f4" stroke="#333" stroke-width="1.500"/><path d="M20 11 L26 23 H14 Z" fill="#c22"/></svg><svg style="left:770px;top:3089px" width="130" height="36" viewBox="0 0 130 36"><defs><radialGradient id="gb" cx="0.35" cy="0.3" r="0.8"><stop offset="0" stop-color="#e8eef8"/><stop offset="1" stop-color="#9fb0cf"/></radialGradient></defs><circle cx="17" cy="18" r="15" fill="url(#gb)" stroke="#8fa3c9" stroke-width="1.500"/><circle cx="17" cy="18" r="10" fill="none" stroke="#f4f7fc" stroke-width="2"/><text x="10.500" y="24.500" font-size="18" font-weight="bold" fill="#f4f7fc" font-family="Liberation Sans">A</text><circle cx="64" cy="18" r="15" fill="url(#gb)" stroke="#8fa3c9" stroke-width="1.500"/><rect x="96" y="5" width="27" height="26" rx="3" fill="url(#gb)" stroke="#8fa3c9" stroke-width="1.500"/></svg>
<div style="left:53px;top:3133px;width:548px;height:27px;background:linear-gradient(#dbe8fa 0%,#cfe0f8 40%,#b3caee 100%);border-bottom:1.500px solid #8d96a8"></div><div style="left:59.5px;top:3140px;width:2.2px;height:2.2px;background:#4a69a8"></div><div style="left:59.5px;top:3144px;width:2.2px;height:2.2px;background:#4a69a8"></div><div style="left:59.5px;top:3148px;width:2.2px;height:2.2px;background:#4a69a8"></div><div style="left:59.5px;top:3152px;width:2.2px;height:2.2px;background:#4a69a8"></div><span class="t b" style="left:71.0px;top:3137.5px;">Events 1</span><svg style="left:523px;top:3137px" width="75" height="22" viewBox="0 0 75 22"><path d="M2 9 H14 L8 15 Z" fill="#111"/><path d="M34 3 h5 v7 h2 v2 h-9 v-2 h2 Z M36.500 12 v6" fill="#111" stroke="#111" stroke-width="1.300"/><path d="M56 5 L67 16 M67 5 L56 16" stroke="#111" stroke-width="2.600"/></svg><div style="left:53px;top:3161px;width:548px;height:52px;background:#a9c4ec"></div><div style="left:58px;top:3163px;width:105px;height:47px;background:linear-gradient(#dfeafb,#c3d6f4 50%,#aec6ed);border-radius:4px;border-bottom:2px solid #8fa9d8"></div><div style="left:61.5px;top:3169px;width:2.2px;height:2.2px;background:#3a5a9a"></div><div style="left:61.5px;top:3173px;width:2.2px;height:2.2px;background:#3a5a9a"></div><div style="left:61.5px;top:3177px;width:2.2px;height:2.2px;background:#3a5a9a"></div><div style="left:61.5px;top:3181px;width:2.2px;height:2.2px;background:#3a5a9a"></div><div style="left:61.5px;top:3185px;width:2.2px;height:2.2px;background:#3a5a9a"></div><div style="left:61.5px;top:3189px;width:2.2px;height:2.2px;background:#3a5a9a"></div><div style="left:61.5px;top:3193px;width:2.2px;height:2.2px;background:#3a5a9a"></div><div style="left:61.5px;top:3197px;width:2.2px;height:2.2px;background:#3a5a9a"></div><div style="left:61.5px;top:3201px;width:2.2px;height:2.2px;background:#3a5a9a"></div><div style="left:79px;top:3183px;width:24px;height:4px;background:#2e62c0"></div><div style="left:89px;top:3173px;width:4px;height:24px;background:#2e62c0"></div><div style="left:124px;top:3183px;width:24px;height:4px;background:#2e62c0"></div><div style="left:53px;top:3212px;width:548px;height:977.5px;background:#fff;border:2px solid #83a6e0"></div><div style="left:55px;top:3213.5px;width:544px;height:26.06px;background:#a9c4ec;border-bottom:1.500px solid #b9cff1"></div><div style="left:58px;top:3220.53px;width:12px;height:12px;border:1.300px solid #7e95bd;border-radius:2.500px;background:linear-gradient(#fff,#c9d6ea)"></div><div style="left:61px;top:3225.73px;width:6px;height:1.7px;background:#26334d"></div><span class="t b" style="left:79.0px;top:3216.2px;">Event EV1.1</span><div style="left:55px;top:3239.56px;width:22px;height:26.06px;background:#a9c4ec"></div><div style="left:75px;top:3239.56px;width:253.5px;height:26.06px;background:#fff;border-bottom:1.500px solid #b9cff1;border-right:1.500px solid #b9cff1"></div><div style="left:328.5px;top:3239.56px;width:270.5px;height:26.06px;border-bottom:1.500px solid #b9cff1"></div><span class="t" style="left:79.0px;top:3243.01px;">Name</span><span class="t" style="left:333.0px;top:3243.01px;">Enters East Ready</span><div style="left:55px;top:3265.62px;width:22px;height:26.06px;background:#a9c4ec"></div><div style="left:75px;top:3265.62px;width:253.5px;height:26.06px;background:#fff;border-bottom:1.500px solid #b9cff1;border-right:1.500px solid #b9cff1"></div><div style="left:328.5px;top:3265.62px;width:270.5px;height:26.06px;border-bottom:1.500px solid #b9cff1"></div><span class="t" style="left:79.0px;top:3269.07px;">Color</span><div style="left:334px;top:3269.15px;width:19px;height:19px;border:1.600px solid #2d5a8c;background:linear-gradient(135deg,#e3e7ec,#fff 60%)"></div><svg style="left:337px;top:3272.15px" width="14" height="13" viewBox="0 0 14 13"><path d="M2 6 L5.500 10 L12 2" fill="none" stroke="#21a121" stroke-width="2.600"/></svg><div style="left:359px;top:3269.15px;width:78px;height:19.5px;background:#c9558f;border:2.200px solid #d4d7db;outline:1px solid #9aa0a8;outline-offset:-1px"></div><div style="left:55px;top:3291.68px;width:22px;height:26.06px;background:#a9c4ec"></div><div style="left:75px;top:3291.68px;width:253.5px;height:26.06px;background:#fff;border-bottom:1.500px solid #b9cff1;border-right:1.500px solid #b9cff1"></div><div style="left:328.5px;top:3291.68px;width:270.5px;height:26.06px;border-bottom:1.500px solid #b9cff1"></div><span class="t" style="left:79.0px;top:3295.13px;">Target</span><span class="t" style="left:333.0px;top:3295.13px;">Zone</span><div style="left:55px;top:3317.74px;width:22px;height:26.06px;background:#a9c4ec"></div><div style="left:75px;top:3317.74px;width:253.5px;height:26.06px;background:#fff;border-bottom:1.500px solid #b9cff1;border-right:1.500px solid #b9cff1"></div><div style="left:328.5px;top:3317.74px;width:270.5px;height:26.06px;border-bottom:1.500px solid #b9cff1"></div><span class="t" style="left:102.0px;top:3321.19px;">Zone</span><span class="t" style="left:333.0px;top:3321.19px;">ZS1.1</span><div style="left:55px;top:3343.8px;width:22px;height:26.06px;background:#a9c4ec"></div><div style="left:75px;top:3343.8px;width:253.5px;height:26.06px;background:#fff;border-bottom:1.500px solid #b9cff1;border-right:1.500px solid #b9cff1"></div><div style="left:328.5px;top:3343.8px;width:270.5px;height:26.06px;border-bottom:1.500px solid #b9cff1"></div><span class="t" style="left:102.0px;top:3347.25px;">Condition</span><span class="t" style="left:333.0px;top:3347.25px;">Entering Zone</span><div style="left:55px;top:3369.86px;width:22px;height:26.06px;background:#a9c4ec"></div><div style="left:75px;top:3369.86px;width:253.5px;height:26.06px;background:#fff;border-bottom:1.500px solid #b9cff1;border-right:1.500px solid #b9cff1"></div><div style="left:328.5px;top:3369.86px;width:270.5px;height:26.06px;border-bottom:1.500px solid #b9cff1"></div><span class="t" style="left:79.0px;top:3373.31px;">Output Line #</span><span class="t" style="left:333.0px;top:3373.31px;">P0.0</span><div style="left:55px;top:3395.92px;width:22px;height:26.06px;background:#a9c4ec"></div><div style="left:75px;top:3395.92px;width:253.5px;height:26.06px;background:#fff;border-bottom:1.500px solid #b9cff1;border-right:1.500px solid #b9cff1"></div><div style="left:328.5px;top:3395.92px;width:270.5px;height:26.06px;border-bottom:1.500px solid #b9cff1"></div><span class="t" style="left:79.0px;top:3399.37px;">Signal Type</span><span class="t" style="left:333.0px;top:3399.37px;">Pulse</span><div style="left:55px;top:3421.98px;width:22px;height:26.06px;background:#a9c4ec"></div><div style="left:75px;top:3421.98px;width:253.5px;height:26.06px;background:#fff;border-bottom:1.500px solid #b9cff1;border-right:1.500px solid #b9cff1"></div><div style="left:328.5px;top:3421.98px;width:270.5px;height:26.06px;border-bottom:1.500px solid #b9cff1"></div><span class="t" style="left:79.0px;top:3425.43px;">Pulse Duration (s)</span><span class="t" style="left:333.0px;top:3425.43px;">1.0</span><div style="left:55px;top:3448.04px;width:544px;height:26.06px;background:#a9c4ec;border-bottom:1.500px solid #b9cff1"></div><div style="left:58px;top:3455.07px;width:12px;height:12px;border:1.300px solid #7e95bd;border-radius:2.500px;background:linear-gradient(#fff,#c9d6ea)"></div><div style="left:61px;top:3460.27px;width:6px;height:1.7px;background:#26334d"></div><span class="t b" style="left:79.0px;top:3450.74px;">Event EV1.2</span><div style="left:55px;top:3474.1px;width:22px;height:26.06px;background:#a9c4ec"></div><div style="left:75px;top:3474.1px;width:253.5px;height:26.06px;background:#fff;border-bottom:1.500px solid #b9cff1;border-right:1.500px solid #b9cff1"></div><div style="left:328.5px;top:3474.1px;width:270.5px;height:26.06px;border-bottom:1.500px solid #b9cff1"></div><span class="t" style="left:79.0px;top:3477.55px;">Name</span><span class="t" style="left:333.0px;top:3477.55px;">Enters East Image</span><div style="left:55px;top:3500.16px;width:22px;height:26.06px;background:#a9c4ec"></div><div style="left:75px;top:3500.16px;width:253.5px;height:26.06px;background:#fff;border-bottom:1.500px solid #b9cff1;border-right:1.500px solid #b9cff1"></div><div style="left:328.5px;top:3500.16px;width:270.5px;height:26.06px;border-bottom:1.500px solid #b9cff1"></div><span class="t" style="left:79.0px;top:3503.61px;">Color</span><div style="left:334px;top:3503.69px;width:19px;height:19px;border:1.600px solid #2d5a8c;background:linear-gradient(135deg,#e3e7ec,#fff 60%)"></div><svg style="left:337px;top:3506.69px" width="14" height="13" viewBox="0 0 14 13"><path d="M2 6 L5.500 10 L12 2" fill="none" stroke="#21a121" stroke-width="2.600"/></svg><div style="left:359px;top:3503.69px;width:78px;height:19.5px;background:#ea6f90;border:2.200px solid #d4d7db;outline:1px solid #9aa0a8;outline-offset:-1px"></div><div style="left:55px;top:3526.22px;width:22px;height:26.06px;background:#a9c4ec"></div><div style="left:75px;top:3526.22px;width:253.5px;height:26.06px;background:#fff;border-bottom:1.500px solid #b9cff1;border-right:1.500px solid #b9cff1"></div><div style="left:328.5px;top:3526.22px;width:270.5px;height:26.06px;border-bottom:1.500px solid #b9cff1"></div><span class="t" style="left:79.0px;top:3529.67px;">Target</span><span class="t" style="left:333.0px;top:3529.67px;">Zone</span><div style="left:55px;top:3552.28px;width:22px;height:26.06px;background:#a9c4ec"></div><div style="left:75px;top:3552.28px;width:253.5px;height:26.06px;background:#fff;border-bottom:1.500px solid #b9cff1;border-right:1.500px solid #b9cff1"></div><div style="left:328.5px;top:3552.28px;width:270.5px;height:26.06px;border-bottom:1.500px solid #b9cff1"></div><span class="t" style="left:102.0px;top:3555.73px;">Zone</span><span class="t" style="left:333.0px;top:3555.73px;">ZS1.2</span><div style="left:55px;top:3578.34px;width:22px;height:26.06px;background:#a9c4ec"></div><div style="left:75px;top:3578.34px;width:253.5px;height:26.06px;background:#fff;border-bottom:1.500px solid #b9cff1;border-right:1.500px solid #b9cff1"></div><div style="left:328.5px;top:3578.34px;width:270.5px;height:26.06px;border-bottom:1.500px solid #b9cff1"></div><span class="t" style="left:102.0px;top:3581.79px;">Condition</span><span class="t" style="left:333.0px;top:3581.79px;">Entering Zone</span><div style="left:55px;top:3604.4px;width:22px;height:26.06px;background:#a9c4ec"></div><div style="left:75px;top:3604.4px;width:253.5px;height:26.06px;background:#fff;border-bottom:1.500px solid #b9cff1;border-right:1.500px solid #b9cff1"></div><div style="left:328.5px;top:3604.4px;width:270.5px;height:26.06px;border-bottom:1.500px solid #b9cff1"></div><span class="t" style="left:79.0px;top:3607.85px;">Output Line #</span><span class="t" style="left:333.0px;top:3607.85px;">P0.1</span><div style="left:55px;top:3630.46px;width:22px;height:26.06px;background:#a9c4ec"></div><div style="left:75px;top:3630.46px;width:253.5px;height:26.06px;background:#fff;border-bottom:1.500px solid #b9cff1;border-right:1.500px solid #b9cff1"></div><div style="left:328.5px;top:3630.46px;width:270.5px;height:26.06px;border-bottom:1.500px solid #b9cff1"></div><span class="t" style="left:79.0px;top:3633.91px;">Signal Type</span><span class="t" style="left:333.0px;top:3633.91px;">Pulse</span><div style="left:55px;top:3656.52px;width:22px;height:26.06px;background:#a9c4ec"></div><div style="left:75px;top:3656.52px;width:253.5px;height:26.06px;background:#fff;border-bottom:1.500px solid #b9cff1;border-right:1.500px solid #b9cff1"></div><div style="left:328.5px;top:3656.52px;width:270.5px;height:26.06px;border-bottom:1.500px solid #b9cff1"></div><span class="t" style="left:79.0px;top:3659.97px;">Pulse Duration (s)</span><span class="t" style="left:333.0px;top:3659.97px;">1.0</span><div style="left:55px;top:3682.58px;width:544px;height:26.06px;background:#a9c4ec;border-bottom:1.500px solid #b9cff1"></div><div style="left:58px;top:3689.61px;width:12px;height:12px;border:1.300px solid #7e95bd;border-radius:2.500px;background:linear-gradient(#fff,#c9d6ea)"></div><div style="left:61px;top:3694.81px;width:6px;height:1.7px;background:#26334d"></div><span class="t b" style="left:79.0px;top:3685.28px;">Event EV1.3</span><div style="left:55px;top:3708.64px;width:22px;height:26.06px;background:#a9c4ec"></div><div style="left:75px;top:3708.64px;width:253.5px;height:26.06px;background:#fff;border-bottom:1.500px solid #b9cff1;border-right:1.500px solid #b9cff1"></div><div style="left:328.5px;top:3708.64px;width:270.5px;height:26.06px;border-bottom:1.500px solid #b9cff1"></div><span class="t" style="left:79.0px;top:3712.09px;">Name</span><span class="t" style="left:333.0px;top:3712.09px;">Enters West Ready</span><div style="left:55px;top:3734.7px;width:22px;height:26.06px;background:#a9c4ec"></div><div style="left:75px;top:3734.7px;width:253.5px;height:26.06px;background:#fff;border-bottom:1.500px solid #b9cff1;border-right:1.500px solid #b9cff1"></div><div style="left:328.5px;top:3734.7px;width:270.5px;height:26.06px;border-bottom:1.500px solid #b9cff1"></div><span class="t" style="left:79.0px;top:3738.15px;">Color</span><div style="left:334px;top:3738.23px;width:19px;height:19px;border:1.600px solid #2d5a8c;background:linear-gradient(135deg,#e3e7ec,#fff 60%)"></div><svg style="left:337px;top:3741.23px" width="14" height="13" viewBox="0 0 14 13"><path d="M2 6 L5.500 10 L12 2" fill="none" stroke="#21a121" stroke-width="2.600"/></svg><div style="left:359px;top:3738.23px;width:78px;height:19.5px;background:#2e2a6f;border:2.200px solid #d4d7db;outline:1px solid #9aa0a8;outline-offset:-1px"></div><div style="left:55px;top:3760.76px;width:22px;height:26.06px;background:#a9c4ec"></div><div style="left:75px;top:3760.76px;width:253.5px;height:26.06px;background:#fff;border-bottom:1.500px solid #b9cff1;border-right:1.500px solid #b9cff1"></div><div style="left:328.5px;top:3760.76px;width:270.5px;height:26.06px;border-bottom:1.500px solid #b9cff1"></div><span class="t" style="left:79.0px;top:3764.21px;">Target</span><span class="t" style="left:333.0px;top:3764.21px;">Zone</span><div style="left:55px;top:3786.82px;width:22px;height:26.06px;background:#a9c4ec"></div><div style="left:75px;top:3786.82px;width:253.5px;height:26.06px;background:#fff;border-bottom:1.500px solid #b9cff1;border-right:1.500px solid #b9cff1"></div><div style="left:328.5px;top:3786.82px;width:270.5px;height:26.06px;border-bottom:1.500px solid #b9cff1"></div><span class="t" style="left:102.0px;top:3790.27px;">Zone</span><span class="t" style="left:333.0px;top:3790.27px;">ZS1.3</span><div style="left:55px;top:3812.88px;width:22px;height:26.06px;background:#a9c4ec"></div><div style="left:75px;top:3812.88px;width:253.5px;height:26.06px;background:#fff;border-bottom:1.500px solid #b9cff1;border-right:1.500px solid #b9cff1"></div><div style="left:328.5px;top:3812.88px;width:270.5px;height:26.06px;border-bottom:1.500px solid #b9cff1"></div><span class="t" style="left:102.0px;top:3816.33px;">Condition</span><span class="t" style="left:333.0px;top:3816.33px;">Entering Zone</span><div style="left:55px;top:3838.94px;width:22px;height:26.06px;background:#a9c4ec"></div><div style="left:75px;top:3838.94px;width:253.5px;height:26.06px;background:#fff;border-bottom:1.500px solid #b9cff1;border-right:1.500px solid #b9cff1"></div><div style="left:328.5px;top:3838.94px;width:270.5px;height:26.06px;border-bottom:1.500px solid #b9cff1"></div><span class="t" style="left:79.0px;top:3842.39px;">Output Line #</span><span class="t" style="left:333.0px;top:3842.39px;">P0.2</span><div style="left:55px;top:3865px;width:22px;height:26.06px;background:#a9c4ec"></div><div style="left:75px;top:3865px;width:253.5px;height:26.06px;background:#fff;border-bottom:1.500px solid #b9cff1;border-right:1.500px solid #b9cff1"></div><div style="left:328.5px;top:3865px;width:270.5px;height:26.06px;border-bottom:1.500px solid #b9cff1"></div><span class="t" style="left:79.0px;top:3868.45px;">Signal Type</span><span class="t" style="left:333.0px;top:3868.45px;">Pulse</span><div style="left:55px;top:3891.06px;width:22px;height:26.06px;background:#a9c4ec"></div><div style="left:75px;top:3891.06px;width:253.5px;height:26.06px;background:#fff;border-bottom:1.500px solid #b9cff1;border-right:1.500px solid #b9cff1"></div><div style="left:328.5px;top:3891.06px;width:270.5px;height:26.06px;border-bottom:1.500px solid #b9cff1"></div><span class="t" style="left:79.0px;top:3894.51px;">Pulse Duration (s)</span><span class="t" style="left:333.0px;top:3894.51px;">1.0</span><div style="left:55px;top:3917.12px;width:544px;height:26.06px;background:#a9c4ec;border-bottom:1.500px solid #b9cff1"></div><div style="left:58px;top:3924.15px;width:12px;height:12px;border:1.300px solid #7e95bd;border-radius:2.500px;background:linear-gradient(#fff,#c9d6ea)"></div><div style="left:61px;top:3929.35px;width:6px;height:1.7px;background:#26334d"></div><span class="t b" style="left:79.0px;top:3919.82px;">Event EV1.4</span><div style="left:55px;top:3943.18px;width:22px;height:26.06px;background:#a9c4ec"></div><div style="left:75px;top:3943.18px;width:253.5px;height:26.06px;background:#fff;border-bottom:1.500px solid #b9cff1;border-right:1.500px solid #b9cff1"></div><div style="left:328.5px;top:3943.18px;width:270.5px;height:26.06px;border-bottom:1.500px solid #b9cff1"></div><span class="t" style="left:79.0px;top:3946.63px;">Name</span><span class="t" style="left:333.0px;top:3946.63px;">Enters West Image</span><div style="left:55px;top:3969.24px;width:22px;height:26.06px;background:#a9c4ec"></div><div style="left:75px;top:3969.24px;width:253.5px;height:26.06px;background:#fff;border-bottom:1.500px solid #b9cff1;border-right:1.500px solid #b9cff1"></div><div style="left:328.5px;top:3969.24px;width:270.5px;height:26.06px;border-bottom:1.500px solid #b9cff1"></div><span class="t" style="left:79.0px;top:3972.69px;">Color</span><div style="left:334px;top:3972.77px;width:19px;height:19px;border:1.600px solid #2d5a8c;background:linear-gradient(135deg,#e3e7ec,#fff 60%)"></div><svg style="left:337px;top:3975.77px" width="14" height="13" viewBox="0 0 14 13"><path d="M2 6 L5.500 10 L12 2" fill="none" stroke="#21a121" stroke-width="2.600"/></svg><div style="left:359px;top:3972.77px;width:78px;height:19.5px;background:#d9bf62;border:2.200px solid #d4d7db;outline:1px solid #9aa0a8;outline-offset:-1px"></div><div style="left:55px;top:3995.3px;width:22px;height:26.06px;background:#a9c4ec"></div><div style="left:75px;top:3995.3px;width:253.5px;height:26.06px;background:#fff;border-bottom:1.500px solid #b9cff1;border-right:1.500px solid #b9cff1"></div><div style="left:328.5px;top:3995.3px;width:270.5px;height:26.06px;border-bottom:1.500px solid #b9cff1"></div><span class="t" style="left:79.0px;top:3998.75px;">Target</span><span class="t" style="left:333.0px;top:3998.75px;">Zone</span><div style="left:55px;top:4021.36px;width:22px;height:26.06px;background:#a9c4ec"></div><div style="left:75px;top:4021.36px;width:253.5px;height:26.06px;background:#fff;border-bottom:1.500px solid #b9cff1;border-right:1.500px solid #b9cff1"></div><div style="left:328.5px;top:4021.36px;width:270.5px;height:26.06px;border-bottom:1.500px solid #b9cff1"></div><span class="t" style="left:102.0px;top:4024.81px;">Zone</span><span class="t" style="left:333.0px;top:4024.81px;">ZS1.4</span><div style="left:55px;top:4047.42px;width:22px;height:26.06px;background:#a9c4ec"></div><div style="left:75px;top:4047.42px;width:253.5px;height:26.06px;background:#fff;border-bottom:1.500px solid #b9cff1;border-right:1.500px solid #b9cff1"></div><div style="left:328.5px;top:4047.42px;width:270.5px;height:26.06px;border-bottom:1.500px solid #b9cff1"></div><span class="t" style="left:102.0px;top:4050.87px;">Condition</span><span class="t" style="left:333.0px;top:4050.87px;">Entering Zone</span><div style="left:55px;top:4073.48px;width:22px;height:26.06px;background:#a9c4ec"></div><div style="left:75px;top:4073.48px;width:253.5px;height:26.06px;background:#a9c4ec;border-bottom:1.500px solid #b9cff1;border-right:1.500px solid #b9cff1"></div><div style="left:328.5px;top:4073.48px;width:270.5px;height:26.06px;border-bottom:1.500px solid #b9cff1"></div><span class="t" style="left:79.0px;top:4076.93px;">Output Line #</span><span class="t" style="left:333.0px;top:4076.93px;">P0.3</span><div style="left:575px;top:4074.98px;width:22px;height:22px;background:linear-gradient(#d6e4fa,#a9c2ec);border:1px solid #9bb5e3;border-radius:2px"></div><svg style="left:580px;top:4081.5px" width="13" height="9" viewBox="0 0 13 9"><path d="M1.500 1.500 L6.500 7 L11.500 1.500" fill="none" stroke="#24418a" stroke-width="2.600"/></svg><div style="left:55px;top:4099.54px;width:22px;height:26.06px;background:#a9c4ec"></div><div style="left:75px;top:4099.54px;width:253.5px;height:26.06px;background:#fff;border-bottom:1.500px solid #b9cff1;border-right:1.500px solid #b9cff1"></div><div style="left:328.5px;top:4099.54px;width:270.5px;height:26.06px;border-bottom:1.500px solid #b9cff1"></div><span class="t" style="left:79.0px;top:4102.99px;">Signal Type</span><span class="t" style="left:333.0px;top:4102.99px;">Pulse</span><div style="left:55px;top:4125.6px;width:22px;height:26.06px;background:#a9c4ec"></div><div style="left:75px;top:4125.6px;width:253.5px;height:26.06px;background:#fff;border-bottom:1.500px solid #b9cff1;border-right:1.500px solid #b9cff1"></div><div style="left:328.5px;top:4125.6px;width:270.5px;height:26.06px;border-bottom:1.500px solid #b9cff1"></div><span class="t" style="left:79.0px;top:4129.05px;">Pulse Duration (s)</span><span class="t" style="left:333.0px;top:4129.05px;">1.0</span><div style="left:53px;top:4195px;width:548px;height:88px;background:#d5e3f8;border:1.500px solid #9fbbe8"></div><span class="t b" style="left:61.0px;top:4199.5px;">Output Line #</span><span class="t" style="left:61.0px;top:4223.95px;">Output line for Event EV1.4</span><div style="left:56.5px;top:4284.5px;width:88.5px;height:29.5px;background:linear-gradient(#e3edfb,#bcd0f1);border:1.500px solid #7b9bd3;border-top:1.500px solid #7b9bd3;border-radius:0 0 5px 5px"></div><span class="t" style="left:89.5px;top:4290.25px;color:#1a2a55">Glo...</span><div style="left:148px;top:4284.5px;width:86.5px;height:29.5px;background:linear-gradient(#e3edfb,#bcd0f1);border:1.500px solid #7b9bd3;border-top:1.500px solid #7b9bd3;border-radius:0 0 5px 5px"></div><span class="t" style="left:181.0px;top:4290.25px;color:#1a2a55">Co...</span><div style="left:237.6px;top:4284.5px;width:86.4px;height:29.5px;background:linear-gradient(#e3edfb,#bcd0f1);border:1.500px solid #7b9bd3;border-top:1.500px solid #7b9bd3;border-radius:0 0 5px 5px"></div><span class="t" style="left:270.6px;top:4290.25px;color:#1a2a55">Sou...</span><div style="left:326.8px;top:4284.5px;width:86.9px;height:29.5px;background:linear-gradient(#e3edfb,#bcd0f1);border:1.500px solid #7b9bd3;border-top:1.500px solid #7b9bd3;border-radius:0 0 5px 5px"></div><span class="t" style="left:359.8px;top:4290.25px;color:#1a2a55">Are...</span><div style="left:415.7px;top:4284.5px;width:87.6px;height:29.5px;background:linear-gradient(#e3edfb,#bcd0f1);border:1.500px solid #7b9bd3;border-top:1.500px solid #7b9bd3;border-radius:0 0 5px 5px"></div><span class="t" style="left:448.7px;top:4290.25px;color:#1a2a55">Seq...</span><div style="left:505.3px;top:4284.5px;width:89.6px;height:29.5px;background:linear-gradient(#fde9c4,#fbd089);border:1.500px solid #7b9bd3;border-top:none;border-radius:0 0 5px 5px"></div><span class="t" style="left:538.3px;top:4290.25px;color:#1a2a55">Eve...</span><svg style="left:60px;top:4288px" width="30" height="24" viewBox="0 0 30 24"><path d="M5 20 L19 4 q4 -3 6 0 q2 3 -1 6 L10 22 Z" fill="#e9e9ef" stroke="#555" stroke-width="1.600"/><path d="M8 19 L20 7" stroke="#c33" stroke-width="2.500"/></svg><svg style="left:153px;top:4289px" width="28" height="22" viewBox="0 0 28 22"><path d="M3 20 V8 q0 -5 4 -5 q4 0 4 5 V20 M13 20 V8 q0 -5 4 -5 q4 0 4 5 V20" fill="none" stroke="#d4431c" stroke-width="3"/><path d="M5 20 V10 M19 20 V10" stroke="#3454b4" stroke-width="2"/></svg><svg style="left:241px;top:4288px" width="28" height="24" viewBox="0 0 28 24"><path d="M3 10 L11 4 L20 4 L25 9 L25 18 L15 22 L6 20 L2 16 Z" fill="#3a3f4a"/><circle cx="8" cy="14" r="5" fill="#222831" stroke="#8f97a3" stroke-width="1.200"/><path d="M15 12 L26 9 L26 18 L17 21 Z" fill="#2a9ad8"/></svg><svg style="left:330px;top:4288px" width="28" height="24" viewBox="0 0 28 24"><g stroke="#2b3f8f" stroke-width="1.600"><rect x="2" y="2" width="6.500" height="6.500" fill="#e23a2e"/><rect x="17" y="2" width="6.500" height="6.500" fill="#3fae49"/><rect x="2" y="15" width="6.500" height="6.500" fill="#dfe8fa"/><rect x="17" y="15" width="6.500" height="6.500" fill="#f2c230"/></g></svg><svg style="left:419px;top:4288px" width="28" height="24" viewBox="0 0 28 24"><path d="M5 5 H21 V19 H5 Z" fill="none" stroke="#333" stroke-width="1.300"/><g stroke="#2b3f8f" stroke-width="1.400"><circle cx="5" cy="5" r="3.200" fill="#e23a2e"/><circle cx="21" cy="5" r="3.200" fill="#3fae49"/><circle cx="5" cy="19" r="3.200" fill="#dfe8fa"/><circle cx="21" cy="19" r="3.200" fill="#f2c230"/></g></svg><svg style="left:511px;top:4292px" width="24" height="16" viewBox="0 0 24 16"><path d="M1 13 H4 V3 H9 V13 H13 V3 H18 V13 H22" fill="none" stroke="#2b3f9f" stroke-width="2.200"/></svg>
<div style="left:609px;top:3133px;width:1430px;height:27px;background:linear-gradient(#dbe8fa 0%,#cfe0f8 40%,#b3caee 100%);border-bottom:1.500px solid #8d96a8"></div><div style="left:615.5px;top:3140px;width:2.2px;height:2.2px;background:#4a69a8"></div><div style="left:615.5px;top:3144px;width:2.2px;height:2.2px;background:#4a69a8"></div><div style="left:615.5px;top:3148px;width:2.2px;height:2.2px;background:#4a69a8"></div><div style="left:615.5px;top:3152px;width:2.2px;height:2.2px;background:#4a69a8"></div><span class="t b" style="left:627.0px;top:3137.5px;">Video 1</span><svg style="left:1961px;top:3137px" width="75" height="22" viewBox="0 0 75 22"><path d="M12 3 h5 v7 h2 v2 h-9 v-2 h2 Z M14.500 12 v6" fill="#111" stroke="#111" stroke-width="1.300"/><rect x="31" y="5" width="12" height="11" fill="none" stroke="#111" stroke-width="2"/><path d="M31 6 h12" stroke="#111" stroke-width="3"/><path d="M56 5 L67 16 M67 5 L56 16" stroke="#111" stroke-width="2.600"/></svg><div style="left:609px;top:3162px;width:1431px;height:1156px;background:#f4f8fe;border-top:2.500px solid #a89c84;border-left:2.500px solid #8e8674;border-right:1px solid #dfe8f6;border-bottom:1px solid #dfe8f6"></div><svg style="left:612px;top:3165px" width="1428" height="1152" viewBox="612 3165 1428 1152" font-family="Liberation Sans, sans-serif"><defs>
<filter id="vb" x="-5%" y="-5%" width="110%" height="110%"><feGaussianBlur stdDeviation="1.600"/></filter>
<filter id="vb2" x="-5%" y="-5%" width="110%" height="110%"><feGaussianBlur stdDeviation="4"/></filter>
<radialGradient id="vig" gradientUnits="userSpaceOnUse" cx="1318" cy="3760" r="1000" gradientTransform="translate(1318 3760) scale(1 0.800) translate(-1318 -3760)">
<stop offset="0.700" stop-color="#00140a" stop-opacity="0"/><stop offset="0.900" stop-color="#00140a" stop-opacity="0.080"/><stop offset="1" stop-color="#00140a" stop-opacity="0.300"/></radialGradient>
<linearGradient id="gtop" x1="0" y1="3215" x2="0" y2="3668" gradientUnits="userSpaceOnUse"><stop offset="0" stop-color="#46997c"/><stop offset="0.250" stop-color="#44977a"/><stop offset="0.270" stop-color="#408c72"/><stop offset="1" stop-color="#3e896f"/></linearGradient>
<linearGradient id="gbot" x1="0" y1="3922" x2="0" y2="4306" gradientUnits="userSpaceOnUse"><stop offset="0" stop-color="#3d8065"/><stop offset="0.500" stop-color="#3c7a60"/><stop offset="0.800" stop-color="#3a775d"/><stop offset="0.830" stop-color="#3f896d"/><stop offset="1" stop-color="#3c8268"/></linearGradient>
<linearGradient id="gl" x1="614" y1="0" x2="870" y2="0" gradientUnits="userSpaceOnUse"><stop offset="0" stop-color="#2a6049"/><stop offset="1" stop-color="#2b634d"/></linearGradient>
<linearGradient id="grr" x1="2022" y1="0" x2="1720" y2="0" gradientUnits="userSpaceOnUse"><stop offset="0" stop-color="#2a5f48"/><stop offset="1" stop-color="#2d644c"/></linearGradient>
<linearGradient id="gyel" x1="0" y1="4205" x2="0" y2="4306" gradientUnits="userSpaceOnUse"><stop offset="0" stop-color="#55582c"/><stop offset="0.600" stop-color="#77763f"/><stop offset="1" stop-color="#a8a163"/></linearGradient>
<clipPath id="vc"><rect x="614" y="3167" width="1408" height="1139"/></clipPath>
</defs>
<rect x="2021" y="3166" width="16.200" height="1149.500" fill="#080a08"/><rect x="613" y="4306" width="1408" height="6" fill="#fbfdff"/><rect x="613" y="4312" width="1424.200" height="3.500" fill="#080a08"/>
<g clip-path="url(#vc)">
<rect x="614" y="3167" width="1408" height="1139" fill="#3f8970"/>
<g filter="url(#vb)">
<polygon points="723,3215 1873,3231 1457,3668 1118,3668" fill="url(#gtop)"/>
<polygon points="1122.6,3922 1457,3925 1791,4306 774,4306" fill="url(#gbot)"/>
<polygon points="723,3215 866,3383 722.4,3541 658.4,3790 713,4025 863.7,4190 774,4310 600,4310 600,3331" fill="url(#gl)"/>
<polygon points="722.4,3541 658.4,3790 600,3790 600,3480" fill="#2d664f"/>
<polygon points="658.4,3790 713,4025 600,4080 600,3790" fill="#316e57"/>
<polygon points="713,4025 863.7,4190 774,4310 600,4310 600,4080" fill="#2c644d"/>
<polygon points="1873,3231 1717,3397 1864,3570 1918,3809 1866,4045 1711,4200 1791,4310 2030,4310 2030,3408" fill="#2e6850"/>
<polygon points="1873,3231 1717,3397 1864,3570 2030,3505 2030,3408" fill="#2b624b"/>
<polygon points="1866,4045 1711,4200 1791,4310 2030,4310 2030,4125" fill="#2c644d"/>
<path d="M1867 3571 L2023 3510 M1918.600 3809 H2023 M1863.500 4031 L2023 4122" stroke="#275a44" stroke-width="2" fill="none" opacity="0.700"/>
<polygon points="866,3383 1118,3668 1457,3668 1717,3397 1864,3570 1918,3809 1866,4045 1711,4200 1457,3925 1122.6,3922 863.7,4190 713,4025 658.4,3790 722.4,3541" fill="#3f8a70"/>
<polygon points="600,3228 707,3224.5 600,3340" fill="#3f8a70"/>
<polygon points="600,3150 2030,3150 2030,3236 1958,3236 1873,3231 1314,3204 723,3213 600,3228" fill="#163424"/>
<polygon points="1878,3231 1958.7,3236 1961,3333" fill="#43866f"/>
<polygon points="1961,3236 2030,3236 2030,3418 1961,3333" fill="#1b3f2d"/>
<polygon points="1951,4310 2030,4205 2030,4310" fill="url(#gyel)"/>
<polygon points="600,4230 600,4310 660,4310" fill="#1e4a39"/>
<g fill="none" stroke-linecap="round" filter="url(#vb)">
<path d="M723 3215 L1118 3668 M1873 3231 L1457 3668" stroke="#1a4030" stroke-width="8"/>
<path d="M1122.6 3922 L774 4306 M1457 3925 L1791 4306" stroke="#1f4a38" stroke-width="7"/>
<path d="M1112 3669 H1463" stroke="#1b4635" stroke-width="10"/>
<path d="M1118 3921.500 L1461 3924.500" stroke="#204c3b" stroke-width="8"/>
<path d="M866 3383 L722.4 3541 L658.4 3790 L713 4025 L863.7 4190" stroke="#2b634d" stroke-width="2" opacity="0.500"/>
</g>
<g stroke="#2f6f58" stroke-width="1.600" opacity="0.550" fill="none">
<path d="M866 3334 H1730"/>
<path d="M1160 3334 V3662 M1183 3334 V3662 M1400 3334 V3662 M1426 3334 V3662"/>
<path d="M1155 3930 V4222 M1190 3930 V4222 M1380 3930 V4222 M1420 3930 V4222"/>
</g>
<g fill="#2a6650" opacity="0.700"><circle cx="1168" cy="3357" r="5"/><circle cx="1160" cy="3618" r="5"/><circle cx="1158" cy="3975" r="5"/><circle cx="1160" cy="4236" r="5"/></g>
</g>
<path d="M1118 3676 H1457" stroke="#2a6a54" stroke-width="10" opacity="0.600" filter="url(#vb2)"/>
<rect x="614" y="3167" width="1408" height="1139" fill="url(#vig)"/>
</g>
<rect x="743" y="3635" width="232" height="257" fill="#ea6f91"/>
<rect x="1122.600" y="3680" width="144" height="225" fill="#be5189"/>
<rect x="1307.500" y="3680" width="143.500" height="225" fill="#2d2a6e"/>
<rect x="1605.500" y="3635" width="232" height="257" fill="#d4bc62"/>
<g font-size="40" fill="#111">
<text x="765" y="3762" textLength="197" lengthAdjust="spacingAndGlyphs">East Image</text><text x="765" y="3809" textLength="88" lengthAdjust="spacingAndGlyphs">Zone</text>
<text x="1138" y="3739" textLength="78" lengthAdjust="spacingAndGlyphs">East</text><text x="1138" y="3786" textLength="113" lengthAdjust="spacingAndGlyphs">Ready</text><text x="1138" y="3833" textLength="88" lengthAdjust="spacingAndGlyphs">Zone</text>
<text x="1335" y="3739" textLength="89" lengthAdjust="spacingAndGlyphs">West</text><text x="1335" y="3786" textLength="113" lengthAdjust="spacingAndGlyphs">Ready</text><text x="1335" y="3833" textLength="88" lengthAdjust="spacingAndGlyphs">Zone</text>
<text x="1618" y="3762" textLength="209" lengthAdjust="spacingAndGlyphs">West Image</text><text x="1618" y="3809" textLength="88" lengthAdjust="spacingAndGlyphs">Zone</text>
</g>
</svg>
<div style="left:2045px;top:3133px;width:947px;height:27px;background:linear-gradient(#dbe8fa 0%,#cfe0f8 40%,#b3caee 100%);border-bottom:1.500px solid #8d96a8"></div><div style="left:2051.5px;top:3140px;width:2.2px;height:2.2px;background:#4a69a8"></div><div style="left:2051.5px;top:3144px;width:2.2px;height:2.2px;background:#4a69a8"></div><div style="left:2051.5px;top:3148px;width:2.2px;height:2.2px;background:#4a69a8"></div><div style="left:2051.5px;top:3152px;width:2.2px;height:2.2px;background:#4a69a8"></div><span class="t b" style="left:2063.0px;top:3137.5px;">Tracking 1</span><svg style="left:2914px;top:3137px" width="75" height="22" viewBox="0 0 75 22"><path d="M12 3 h5 v7 h2 v2 h-9 v-2 h2 Z M14.500 12 v6" fill="#111" stroke="#111" stroke-width="1.300"/><rect x="31" y="5" width="12" height="11" fill="none" stroke="#111" stroke-width="2"/><path d="M31 6 h12" stroke="#111" stroke-width="3"/><path d="M56 5 L67 16 M67 5 L56 16" stroke="#111" stroke-width="2.600"/></svg><div style="left:2045px;top:3161.3px;width:947px;height:1062.2px;background:#fff;border:2px solid #83a6e0"></div><div style="left:2047px;top:3162.8px;width:943px;height:26.02px;background:#a9c4ec;border-bottom:1.500px solid #b9cff1"></div><div style="left:2051px;top:3169.81px;width:12px;height:12px;border:1.300px solid #7e95bd;border-radius:2.500px;background:linear-gradient(#fff,#c9d6ea)"></div><div style="left:2054px;top:3175.01px;width:6px;height:1.7px;background:#26334d"></div><span class="t b" style="left:2072.8px;top:3165.5px;">Object Contour Tracker</span><div style="left:2047px;top:3188.82px;width:21px;height:26.02px;background:#a9c4ec"></div><div style="left:2068px;top:3188.82px;width:452px;height:26.02px;background:#fff;border-bottom:1.500px solid #b9cff1;border-right:1.500px solid #b9cff1"></div><div style="left:2520px;top:3188.82px;width:470px;height:26.02px;border-bottom:1.500px solid #b9cff1"></div><span class="t" style="left:2072.8px;top:3192.27px;">Object vs. Background</span><span class="t" style="left:2524.5px;top:3192.27px;">Dark on Bright</span><div style="left:2047px;top:3214.84px;width:21px;height:26.02px;background:#a9c4ec"></div><div style="left:2068px;top:3214.84px;width:452px;height:26.02px;background:#fff;border-bottom:1.500px solid #b9cff1;border-right:1.500px solid #b9cff1"></div><div style="left:2520px;top:3214.84px;width:470px;height:26.02px;border-bottom:1.500px solid #b9cff1"></div><span class="t" style="left:2072.8px;top:3218.29px;">Background Image</span><span class="t" style="left:2524.5px;top:3218.29px;">No image</span><svg style="left:2888px;top:3217.8px" width="102" height="21" viewBox="0 0 102 21"><rect x="1" y="3" width="27" height="16" fill="#3f9a3f" stroke="#1f5f1f"/><circle cx="14.500" cy="11" r="5" fill="#dff0df" stroke="#1f5f1f" stroke-width="1.500"/><rect x="5" y="1" width="7" height="3" fill="#3f9a3f"/><rect x="37" y="3" width="27" height="16" fill="#c9ccd2" stroke="#777"/><path d="M39 12 q11 -10 23 0 q-11 7 -23 0 Z" fill="#f4f4f4" stroke="#333" stroke-width="1.300"/><circle cx="50.500" cy="11.500" r="3" fill="#333"/><path d="M72 5 L92 15 M72 15 L92 5" stroke="#222" stroke-width="2.200"/><circle cx="95" cy="6" r="3.500" fill="none" stroke="#222" stroke-width="1.600"/><circle cx="95" cy="15" r="3.500" fill="none" stroke="#222" stroke-width="1.600"/></svg><div style="left:2047px;top:3240.86px;width:21px;height:26.02px;background:#a9c4ec"></div><div style="left:2068px;top:3240.86px;width:452px;height:26.02px;background:#fff;border-bottom:1.500px solid #b9cff1;border-right:1.500px solid #b9cff1"></div><div style="left:2520px;top:3240.86px;width:470px;height:26.02px;border-bottom:1.500px solid #b9cff1"></div><span class="t" style="left:2072.8px;top:3244.31px;color:#9aa0a8;">Use Background</span><div style="left:2523px;top:3244.37px;width:19px;height:19px;border:1.600px solid #c7ccd4;background:linear-gradient(135deg,#e3e7ec,#fff 60%)"></div><div style="left:2047px;top:3266.88px;width:21px;height:26.02px;background:#a9c4ec"></div><div style="left:2068px;top:3266.88px;width:452px;height:26.02px;background:#fff;border-bottom:1.500px solid #b9cff1;border-right:1.500px solid #b9cff1"></div><div style="left:2520px;top:3266.88px;width:470px;height:26.02px;border-bottom:1.500px solid #b9cff1"></div><span class="t" style="left:2072.8px;top:3270.33px;">Threshold</span><span class="t" style="left:2524.5px;top:3270.33px;">128</span><div style="left:2047px;top:3292.9px;width:21px;height:26.02px;background:#a9c4ec"></div><div style="left:2068px;top:3292.9px;width:452px;height:26.02px;background:#fff;border-bottom:1.500px solid #b9cff1;border-right:1.500px solid #b9cff1"></div><div style="left:2520px;top:3292.9px;width:470px;height:26.02px;border-bottom:1.500px solid #b9cff1"></div><span class="t" style="left:2072.8px;top:3296.35px;">Contour Treatment</span><span class="t" style="left:2524.5px;top:3296.35px;">None</span><div style="left:2047px;top:3318.92px;width:21px;height:26.02px;background:#a9c4ec"></div><div style="left:2068px;top:3318.92px;width:452px;height:26.02px;background:#fff;border-bottom:1.500px solid #b9cff1;border-right:1.500px solid #b9cff1"></div><div style="left:2520px;top:3318.92px;width:470px;height:26.02px;border-bottom:1.500px solid #b9cff1"></div><span class="t" style="left:2072.8px;top:3322.37px;">Min Object Size</span><span class="t" style="left:2524.5px;top:3322.37px;">5</span><div style="left:2047px;top:3344.94px;width:21px;height:26.02px;background:#a9c4ec"></div><div style="left:2068px;top:3344.94px;width:452px;height:26.02px;background:#fff;border-bottom:1.500px solid #b9cff1;border-right:1.500px solid #b9cff1"></div><div style="left:2520px;top:3344.94px;width:470px;height:26.02px;border-bottom:1.500px solid #b9cff1"></div><span class="t" style="left:2072.8px;top:3348.39px;">Motion Measure</span><div style="left:2523px;top:3348.45px;width:19px;height:19px;border:1.600px solid #2d5a8c;background:linear-gradient(135deg,#e3e7ec,#fff 60%)"></div><div style="left:2552px;top:3349.95px;width:25px;height:16px;background:#d6dcf2;border:1px solid #aab3d8"></div><span class="t" style="left:2553.5px;top:3352.47px;color:#3a3f9f;line-height:12px;font-size:11.5px;letter-spacing:-0.246px;">PLX</span><div style="left:2047px;top:3370.96px;width:943px;height:26.02px;background:#a9c4ec;border-bottom:1.500px solid #b9cff1"></div><div style="left:2051px;top:3377.97px;width:12px;height:12px;border:1.300px solid #7e95bd;border-radius:2.500px;background:linear-gradient(#fff,#c9d6ea)"></div><div style="left:2054px;top:3383.17px;width:6px;height:1.7px;background:#26334d"></div><span class="t b" style="left:2072.8px;top:3373.66px;">Whole Body Visualizations</span><div style="left:2047px;top:3396.98px;width:21px;height:26.02px;background:#a9c4ec"></div><div style="left:2068px;top:3396.98px;width:452px;height:26.02px;background:#fff;border-bottom:1.500px solid #b9cff1;border-right:1.500px solid #b9cff1"></div><div style="left:2520px;top:3396.98px;width:470px;height:26.02px;border-bottom:1.500px solid #b9cff1"></div><div style="left:2051px;top:3403.99px;width:12px;height:12px;border:1.300px solid #7e95bd;border-radius:2.500px;background:linear-gradient(#fff,#c9d6ea)"></div><div style="left:2054px;top:3409.19px;width:6px;height:1.7px;background:#26334d"></div><span class="t" style="left:2072.8px;top:3400.43px;">Track</span><span class="t" style="left:2524.5px;top:3400.43px;"></span><div style="left:2047px;top:3423px;width:21px;height:26.02px;background:#a9c4ec"></div><div style="left:2068px;top:3423px;width:452px;height:26.02px;background:#fff;border-bottom:1.500px solid #b9cff1;border-right:1.500px solid #b9cff1"></div><div style="left:2520px;top:3423px;width:470px;height:26.02px;border-bottom:1.500px solid #b9cff1"></div><span class="t" style="left:2094.3px;top:3426.45px;">Connect Points</span><div style="left:2523px;top:3426.51px;width:19px;height:19px;border:1.600px solid #2d5a8c;background:linear-gradient(135deg,#e3e7ec,#fff 60%)"></div><div style="left:2551.5px;top:3426.51px;width:77px;height:19.5px;background:#6cbd45;border:2.200px solid #d4d7db;outline:1px solid #9aa0a8;outline-offset:-1px"></div><div style="left:2047px;top:3449.02px;width:21px;height:26.02px;background:#a9c4ec"></div><div style="left:2068px;top:3449.02px;width:452px;height:26.02px;background:#fff;border-bottom:1.500px solid #b9cff1;border-right:1.500px solid #b9cff1"></div><div style="left:2520px;top:3449.02px;width:470px;height:26.02px;border-bottom:1.500px solid #b9cff1"></div><span class="t" style="left:2094.3px;top:3452.47px;">Track Portion</span><span class="t" style="left:2524.5px;top:3452.47px;">Whole</span><div style="left:2047px;top:3475.04px;width:21px;height:26.02px;background:#a9c4ec"></div><div style="left:2068px;top:3475.04px;width:452px;height:26.02px;background:#fff;border-bottom:1.500px solid #b9cff1;border-right:1.500px solid #b9cff1"></div><div style="left:2520px;top:3475.04px;width:470px;height:26.02px;border-bottom:1.500px solid #b9cff1"></div><span class="t" style="left:2072.8px;top:3478.49px;">Tracking Window</span><div style="left:2523px;top:3478.55px;width:19px;height:19px;border:1.600px solid #2d5a8c;background:linear-gradient(135deg,#e3e7ec,#fff 60%)"></div><div style="left:2551.5px;top:3478.55px;width:77px;height:19.5px;background:#f5e61d;border:2.200px solid #d4d7db;outline:1px solid #9aa0a8;outline-offset:-1px"></div><div style="left:2047px;top:3501.06px;width:21px;height:26.02px;background:#a9c4ec"></div><div style="left:2068px;top:3501.06px;width:452px;height:26.02px;background:#a9c4ec;border-bottom:1.500px solid #b9cff1;border-right:1.500px solid #b9cff1"></div><div style="left:2520px;top:3501.06px;width:470px;height:26.02px;border-bottom:1.500px solid #b9cff1"></div><span class="t" style="left:2072.8px;top:3504.51px;">Center of Gravity</span><div style="left:2523px;top:3504.57px;width:19px;height:19px;border:1.600px solid #2d5a8c;background:linear-gradient(135deg,#e3e7ec,#fff 60%)"></div><div style="left:2551.5px;top:3504.57px;width:77px;height:19.5px;background:#ed1c24;border:2.200px solid #d4d7db;outline:1px solid #9aa0a8;outline-offset:-1px"></div><div style="left:2636px;top:3506.07px;width:25px;height:16px;background:#d6dcf2;border:1px solid #aab3d8"></div><span class="t" style="left:2637.5px;top:3508.59px;color:#3a3f9f;line-height:12px;font-size:11.5px;letter-spacing:-0.246px;">PLX</span><div style="left:2047px;top:3527.08px;width:21px;height:26.02px;background:#a9c4ec"></div><div style="left:2068px;top:3527.08px;width:452px;height:26.02px;background:#fff;border-bottom:1.500px solid #b9cff1;border-right:1.500px solid #b9cff1"></div><div style="left:2520px;top:3527.08px;width:470px;height:26.02px;border-bottom:1.500px solid #b9cff1"></div><span class="t" style="left:2072.8px;top:3530.53px;">Cent.Grav.Shape</span><span class="t" style="left:2524.5px;top:3530.53px;">Cross-hair</span><div style="left:2047px;top:3553.1px;width:21px;height:26.02px;background:#a9c4ec"></div><div style="left:2068px;top:3553.1px;width:452px;height:26.02px;background:#fff;border-bottom:1.500px solid #b9cff1;border-right:1.500px solid #b9cff1"></div><div style="left:2520px;top:3553.1px;width:470px;height:26.02px;border-bottom:1.500px solid #b9cff1"></div><span class="t" style="left:2072.8px;top:3556.55px;">Cent.Grav. Size</span><span class="t" style="left:2524.5px;top:3556.55px;">20</span><div style="left:2047px;top:3579.12px;width:21px;height:26.02px;background:#a9c4ec"></div><div style="left:2068px;top:3579.12px;width:452px;height:26.02px;background:#fff;border-bottom:1.500px solid #b9cff1;border-right:1.500px solid #b9cff1"></div><div style="left:2520px;top:3579.12px;width:470px;height:26.02px;border-bottom:1.500px solid #b9cff1"></div><span class="t" style="left:2072.8px;top:3582.57px;">Contour</span><div style="left:2523px;top:3582.63px;width:19px;height:19px;border:1.600px solid #2d5a8c;background:linear-gradient(135deg,#e3e7ec,#fff 60%)"></div><div style="left:2551.5px;top:3582.63px;width:77px;height:19.5px;background:#ed1c24;border:2.200px solid #d4d7db;outline:1px solid #9aa0a8;outline-offset:-1px"></div><div style="left:2047px;top:3605.14px;width:21px;height:26.02px;background:#a9c4ec"></div><div style="left:2068px;top:3605.14px;width:452px;height:26.02px;background:#fff;border-bottom:1.500px solid #b9cff1;border-right:1.500px solid #b9cff1"></div><div style="left:2520px;top:3605.14px;width:470px;height:26.02px;border-bottom:1.500px solid #b9cff1"></div><span class="t" style="left:2072.8px;top:3608.59px;">Fill Contour</span><div style="left:2523px;top:3608.65px;width:19px;height:19px;border:1.600px solid #2d5a8c;background:linear-gradient(135deg,#e3e7ec,#fff 60%)"></div><div style="left:2551.5px;top:3608.65px;width:77px;height:19.5px;background:#f5e61d;border:2.200px solid #d4d7db;outline:1px solid #9aa0a8;outline-offset:-1px"></div><div style="left:2047px;top:3631.16px;width:21px;height:26.02px;background:#a9c4ec"></div><div style="left:2068px;top:3631.16px;width:452px;height:26.02px;background:#fff;border-bottom:1.500px solid #b9cff1;border-right:1.500px solid #b9cff1"></div><div style="left:2520px;top:3631.16px;width:470px;height:26.02px;border-bottom:1.500px solid #b9cff1"></div><span class="t" style="left:2072.8px;top:3634.61px;">Fill All Objects</span><div style="left:2523px;top:3634.67px;width:19px;height:19px;border:1.600px solid #2d5a8c;background:linear-gradient(135deg,#e3e7ec,#fff 60%)"></div><div style="left:2551.5px;top:3634.67px;width:77px;height:19.5px;background:#5bc8e0;border:2.200px solid #d4d7db;outline:1px solid #9aa0a8;outline-offset:-1px"></div><div style="left:2045px;top:4227px;width:947px;height:87px;background:#d5e3f8;border:1.500px solid #9fbbe8"></div><span class="t b" style="left:2053.5px;top:4232.4px;">Center of Gravity</span><span class="t" style="left:2053.5px;top:4257.25px;letter-spacing:0.084px;">When checked, center of gravity of the tracked object will be shown using the color selected.</span>
<div style="left:53px;top:4326px;width:2939px;height:27px;background:linear-gradient(#dbe8fa 0%,#cfe0f8 40%,#b3caee 100%);border-bottom:1.500px solid #8d96a8"></div><div style="left:59.5px;top:4333px;width:2.2px;height:2.2px;background:#4a69a8"></div><div style="left:59.5px;top:4337px;width:2.2px;height:2.2px;background:#4a69a8"></div><div style="left:59.5px;top:4341px;width:2.2px;height:2.2px;background:#4a69a8"></div><div style="left:59.5px;top:4345px;width:2.2px;height:2.2px;background:#4a69a8"></div><span class="t b" style="left:71.0px;top:4330.4px;">Event Statistics</span><svg style="left:2914px;top:4330px" width="75" height="22" viewBox="0 0 75 22"><path d="M34 3 h5 v7 h2 v2 h-9 v-2 h2 Z M36.500 12 v6" fill="#111" stroke="#111" stroke-width="1.300"/><path d="M56 5 L67 16 M67 5 L56 16" stroke="#111" stroke-width="2.600"/></svg><div style="left:53px;top:4354px;width:2939px;height:280px;background:#fff;border:2px solid #83a6e0"></div><div style="left:55px;top:4356.7px;width:2935px;height:59.7px;background:#b7cef2;border-bottom:1.500px solid #a7bfe6"></div><div style="left:159.5px;top:4356.7px;width:2.2px;height:59.7px;background:linear-gradient(90deg,#e9e4d6,#f7f5ee)"></div><div style="left:1918px;top:4356.7px;width:2.2px;height:59.7px;background:linear-gradient(90deg,#e9e4d6,#f7f5ee)"></div><div style="left:2251.4px;top:4356.7px;width:2.2px;height:59.7px;background:linear-gradient(90deg,#e9e4d6,#f7f5ee)"></div><div style="left:2328.5px;top:4356.7px;width:2.2px;height:59.7px;background:linear-gradient(90deg,#e9e4d6,#f7f5ee)"></div><div style="left:2408.5px;top:4356.7px;width:2.2px;height:59.7px;background:linear-gradient(90deg,#e9e4d6,#f7f5ee)"></div><div style="left:2481px;top:4356.7px;width:2.2px;height:59.7px;background:linear-gradient(90deg,#e9e4d6,#f7f5ee)"></div><div style="left:2735.7px;top:4356.7px;width:2.2px;height:59.7px;background:linear-gradient(90deg,#e9e4d6,#f7f5ee)"></div><div style="left:2108px;top:4385.8px;width:2.2px;height:30.6px;background:linear-gradient(90deg,#e9e4d6,#f7f5ee)"></div><div style="left:2606px;top:4385.8px;width:2.2px;height:30.6px;background:linear-gradient(90deg,#e9e4d6,#f7f5ee)"></div><div style="left:2860.8px;top:4385.8px;width:2.2px;height:30.6px;background:linear-gradient(90deg,#e9e4d6,#f7f5ee)"></div><div style="left:1919px;top:4384.8px;width:333.4px;height:2px;background:#e9e4d6"></div><div style="left:2482px;top:4384.8px;width:254.7px;height:2px;background:#e9e4d6"></div><div style="left:2736.7px;top:4384.8px;width:252.3px;height:2px;background:#e9e4d6"></div><span class="t b" style="left:94.4px;top:4376.68px;font-size:16.8px;">No.</span><span class="t b" style="left:989.9px;top:4376.68px;font-size:16.8px;">Event Name</span><span class="t b" style="left:2059.6px;top:4361.18px;font-size:16.8px;">Target</span><span class="t b" style="left:1994.3px;top:4391.68px;font-size:16.8px;">Type</span><span class="t b" style="left:2157.1px;top:4391.68px;font-size:16.8px;">Name</span><span class="t b" style="left:2263.8px;top:4376.68px;font-size:16.8px;">Object</span><span class="t b" style="left:2340.9px;top:4376.68px;font-size:16.8px;">Output</span><span class="t b" style="left:2420.6px;top:4376.68px;font-size:16.8px;">Count</span><span class="t b" style="left:2579.3px;top:4361.18px;font-size:16.8px;">Time, s</span><span class="t b" style="left:2526.5px;top:4391.68px;font-size:16.8px;">Last</span><span class="t b" style="left:2624.8px;top:4391.68px;font-size:16.8px;">Cumulative</span><span class="t b" style="left:2790.8px;top:4361.18px;font-size:16.8px;">Track Length, pix</span><span class="t b" style="left:2781.3px;top:4391.68px;font-size:16.8px;">Last</span><span class="t b" style="left:2878.4px;top:4391.68px;font-size:16.8px;">Cumulative</span><div style="left:55px;top:4416.4px;width:105.5px;height:215.6px;background:#ece9d8"></div><div style="left:55px;top:4416.4px;width:105.5px;height:30.4px;background:#b7cef2;border-bottom:1.500px solid #e4dfd0"></div><div style="left:160.5px;top:4416.4px;width:2829px;height:30.4px;border-bottom:1.500px solid #d4d8de"></div><span class="t b" style="left:84.7px;top:4421.58px;font-size:16.8px;">EV1.1</span><span class="t" style="left:970.5px;top:4421.65px;">Enters East Ready</span><span class="t" style="left:1970.6px;top:4421.65px;">Zone ZS1.1</span><span class="t" style="left:2121.2px;top:4421.65px;">East Ready Box</span><span class="t" style="left:2278.5px;top:4421.65px;">CG</span><span class="t" style="left:2352.4px;top:4421.65px;">P0.0</span><span class="t" style="left:2441.1px;top:4421.65px;">0</span><span class="t" style="left:2533.0px;top:4421.65px;">0.0</span><span class="t" style="left:2660.3px;top:4421.65px;">0.0</span><span class="t" style="left:2787.7px;top:4421.65px;">0.0</span><span class="t" style="left:2913.9px;top:4421.65px;">0.0</span><div style="left:1918.3px;top:4416.4px;width:1.4px;height:30.4px;background:#d4d8de"></div><div style="left:2108.3px;top:4416.4px;width:1.4px;height:30.4px;background:#d4d8de"></div><div style="left:2251.7px;top:4416.4px;width:1.4px;height:30.4px;background:#d4d8de"></div><div style="left:2328.8px;top:4416.4px;width:1.4px;height:30.4px;background:#d4d8de"></div><div style="left:2408.8px;top:4416.4px;width:1.4px;height:30.4px;background:#d4d8de"></div><div style="left:2481.3px;top:4416.4px;width:1.4px;height:30.4px;background:#d4d8de"></div><div style="left:2606.3px;top:4416.4px;width:1.4px;height:30.4px;background:#d4d8de"></div><div style="left:2736px;top:4416.4px;width:1.4px;height:30.4px;background:#d4d8de"></div><div style="left:2861.1px;top:4416.4px;width:1.4px;height:30.4px;background:#d4d8de"></div><div style="left:55px;top:4446.8px;width:105.5px;height:30.4px;background:#b7cef2;border-bottom:1.500px solid #e4dfd0"></div><div style="left:160.5px;top:4446.8px;width:2829px;height:30.4px;border-bottom:1.500px solid #d4d8de"></div><span class="t b" style="left:84.7px;top:4451.98px;font-size:16.8px;">EV1.2</span><span class="t" style="left:971.5px;top:4452.05px;">Enters East Image</span><span class="t" style="left:1970.6px;top:4452.05px;">Zone ZS1.2</span><span class="t" style="left:2122.1px;top:4452.05px;">East Image Box</span><span class="t" style="left:2278.5px;top:4452.05px;">CG</span><span class="t" style="left:2352.4px;top:4452.05px;">P0.1</span><span class="t" style="left:2441.1px;top:4452.05px;">0</span><span class="t" style="left:2533.0px;top:4452.05px;">0.0</span><span class="t" style="left:2660.3px;top:4452.05px;">0.0</span><span class="t" style="left:2787.7px;top:4452.05px;">0.0</span><span class="t" style="left:2913.9px;top:4452.05px;">0.0</span><div style="left:1918.3px;top:4446.8px;width:1.4px;height:30.4px;background:#d4d8de"></div><div style="left:2108.3px;top:4446.8px;width:1.4px;height:30.4px;background:#d4d8de"></div><div style="left:2251.7px;top:4446.8px;width:1.4px;height:30.4px;background:#d4d8de"></div><div style="left:2328.8px;top:4446.8px;width:1.4px;height:30.4px;background:#d4d8de"></div><div style="left:2408.8px;top:4446.8px;width:1.4px;height:30.4px;background:#d4d8de"></div><div style="left:2481.3px;top:4446.8px;width:1.4px;height:30.4px;background:#d4d8de"></div><div style="left:2606.3px;top:4446.8px;width:1.4px;height:30.4px;background:#d4d8de"></div><div style="left:2736px;top:4446.8px;width:1.4px;height:30.4px;background:#d4d8de"></div><div style="left:2861.1px;top:4446.8px;width:1.4px;height:30.4px;background:#d4d8de"></div><div style="left:55px;top:4477.2px;width:105.5px;height:30.4px;background:#b7cef2;border-bottom:1.500px solid #e4dfd0"></div><div style="left:160.5px;top:4477.2px;width:2829px;height:30.4px;border-bottom:1.500px solid #d4d8de"></div><span class="t b" style="left:84.7px;top:4482.38px;font-size:16.8px;">EV1.3</span><span class="t" style="left:968.4px;top:4482.45px;">Enters West Ready</span><span class="t" style="left:1970.6px;top:4482.45px;">Zone ZS1.3</span><span class="t" style="left:2119.0px;top:4482.45px;">West Ready Box</span><span class="t" style="left:2278.5px;top:4482.45px;">CG</span><span class="t" style="left:2352.4px;top:4482.45px;">P0.2</span><span class="t" style="left:2441.1px;top:4482.45px;">0</span><span class="t" style="left:2533.0px;top:4482.45px;">0.0</span><span class="t" style="left:2660.3px;top:4482.45px;">0.0</span><span class="t" style="left:2787.7px;top:4482.45px;">0.0</span><span class="t" style="left:2913.9px;top:4482.45px;">0.0</span><div style="left:1918.3px;top:4477.2px;width:1.4px;height:30.4px;background:#d4d8de"></div><div style="left:2108.3px;top:4477.2px;width:1.4px;height:30.4px;background:#d4d8de"></div><div style="left:2251.7px;top:4477.2px;width:1.4px;height:30.4px;background:#d4d8de"></div><div style="left:2328.8px;top:4477.2px;width:1.4px;height:30.4px;background:#d4d8de"></div><div style="left:2408.8px;top:4477.2px;width:1.4px;height:30.4px;background:#d4d8de"></div><div style="left:2481.3px;top:4477.2px;width:1.4px;height:30.4px;background:#d4d8de"></div><div style="left:2606.3px;top:4477.2px;width:1.4px;height:30.4px;background:#d4d8de"></div><div style="left:2736px;top:4477.2px;width:1.4px;height:30.4px;background:#d4d8de"></div><div style="left:2861.1px;top:4477.2px;width:1.4px;height:30.4px;background:#d4d8de"></div><div style="left:55px;top:4507.6px;width:105.5px;height:30.4px;background:#b7cef2;border-bottom:1.500px solid #e4dfd0"></div><div style="left:160.5px;top:4507.6px;width:2829px;height:30.4px;border-bottom:1.500px solid #d4d8de"></div><span class="t b" style="left:84.7px;top:4512.78px;font-size:16.8px;">EV1.4</span><span class="t" style="left:969.3px;top:4512.85px;">Enters West Image</span><span class="t" style="left:1970.6px;top:4512.85px;">Zone ZS1.4</span><span class="t" style="left:2120.0px;top:4512.85px;">West Image Box</span><span class="t" style="left:2278.5px;top:4512.85px;">CG</span><span class="t" style="left:2352.4px;top:4512.85px;">P0.3</span><span class="t" style="left:2441.1px;top:4512.85px;">0</span><span class="t" style="left:2533.0px;top:4512.85px;">0.0</span><span class="t" style="left:2660.3px;top:4512.85px;">0.0</span><span class="t" style="left:2787.7px;top:4512.85px;">0.0</span><span class="t" style="left:2913.9px;top:4512.85px;">0.0</span><div style="left:1918.3px;top:4507.6px;width:1.4px;height:30.4px;background:#d4d8de"></div><div style="left:2108.3px;top:4507.6px;width:1.4px;height:30.4px;background:#d4d8de"></div><div style="left:2251.7px;top:4507.6px;width:1.4px;height:30.4px;background:#d4d8de"></div><div style="left:2328.8px;top:4507.6px;width:1.4px;height:30.4px;background:#d4d8de"></div><div style="left:2408.8px;top:4507.6px;width:1.4px;height:30.4px;background:#d4d8de"></div><div style="left:2481.3px;top:4507.6px;width:1.4px;height:30.4px;background:#d4d8de"></div><div style="left:2606.3px;top:4507.6px;width:1.4px;height:30.4px;background:#d4d8de"></div><div style="left:2736px;top:4507.6px;width:1.4px;height:30.4px;background:#d4d8de"></div><div style="left:2861.1px;top:4507.6px;width:1.4px;height:30.4px;background:#d4d8de"></div><div style="left:160px;top:4416.4px;width:1.5px;height:121.6px;background:#d9d4c4"></div><div style="left:53px;top:4355px;width:2.5px;height:278px;background:#8e8674"></div>
<div style="left:52px;top:4633px;width:2940px;height:29px;background:linear-gradient(#f4f2e8,#e6e2d2);border-top:1.500px solid #c9c5b4"></div><span class="t" style="left:62.0px;top:4639.11px;color:#8f8f8f;font-size:17px;letter-spacing:1.081px;">Plexon Inc.</span><div style="left:166px;top:4637px;width:1.5px;height:24px;background:#c9c5b4"></div><div style="left:172px;top:4641px;width:40px;height:18px;background:#fff;border:2.200px solid #222;border-radius:3px"></div><div style="left:177px;top:4646px;width:7px;height:6px;border:1.600px solid #222;border-radius:50%"></div><div style="left:186px;top:4648px;width:12px;height:2px;background:#222"></div><div style="left:199px;top:4646px;width:7px;height:6px;background:#222;border-radius:50%"></div><div style="left:218px;top:4637px;width:2218.4px;height:25px;background:#ed1c24"></div><span class="t" style="left:222.0px;top:4639.75px;color:#5a0b0b;letter-spacing:0.076px;">Recording disabled – the detected objects are unreasonably large. Adjust threshold setting.</span><div style="left:2438px;top:4638px;width:1.5px;height:22px;background:#cfcbb9"></div><div style="left:2548px;top:4638px;width:1.5px;height:22px;background:#cfcbb9"></div><div style="left:2688px;top:4638px;width:1.5px;height:22px;background:#cfcbb9"></div><div style="left:2725px;top:4638px;width:1.5px;height:22px;background:#cfcbb9"></div><div style="left:2762px;top:4638px;width:1.5px;height:22px;background:#cfcbb9"></div><div style="left:2866px;top:4638px;width:1.5px;height:22px;background:#cfcbb9"></div><div style="left:2960px;top:4638px;width:1.5px;height:22px;background:#cfcbb9"></div><span class="t" style="left:2478.3px;top:4639.75px;">0.00</span><span class="t" style="left:2586.6px;top:4639.75px;">Drops: 0</span><span class="t" style="left:2782.7px;top:4639.75px;">640x480</span><span class="t" style="left:2883.2px;top:4639.75px;">30.0 fps</span>
</div>
</body></html>
